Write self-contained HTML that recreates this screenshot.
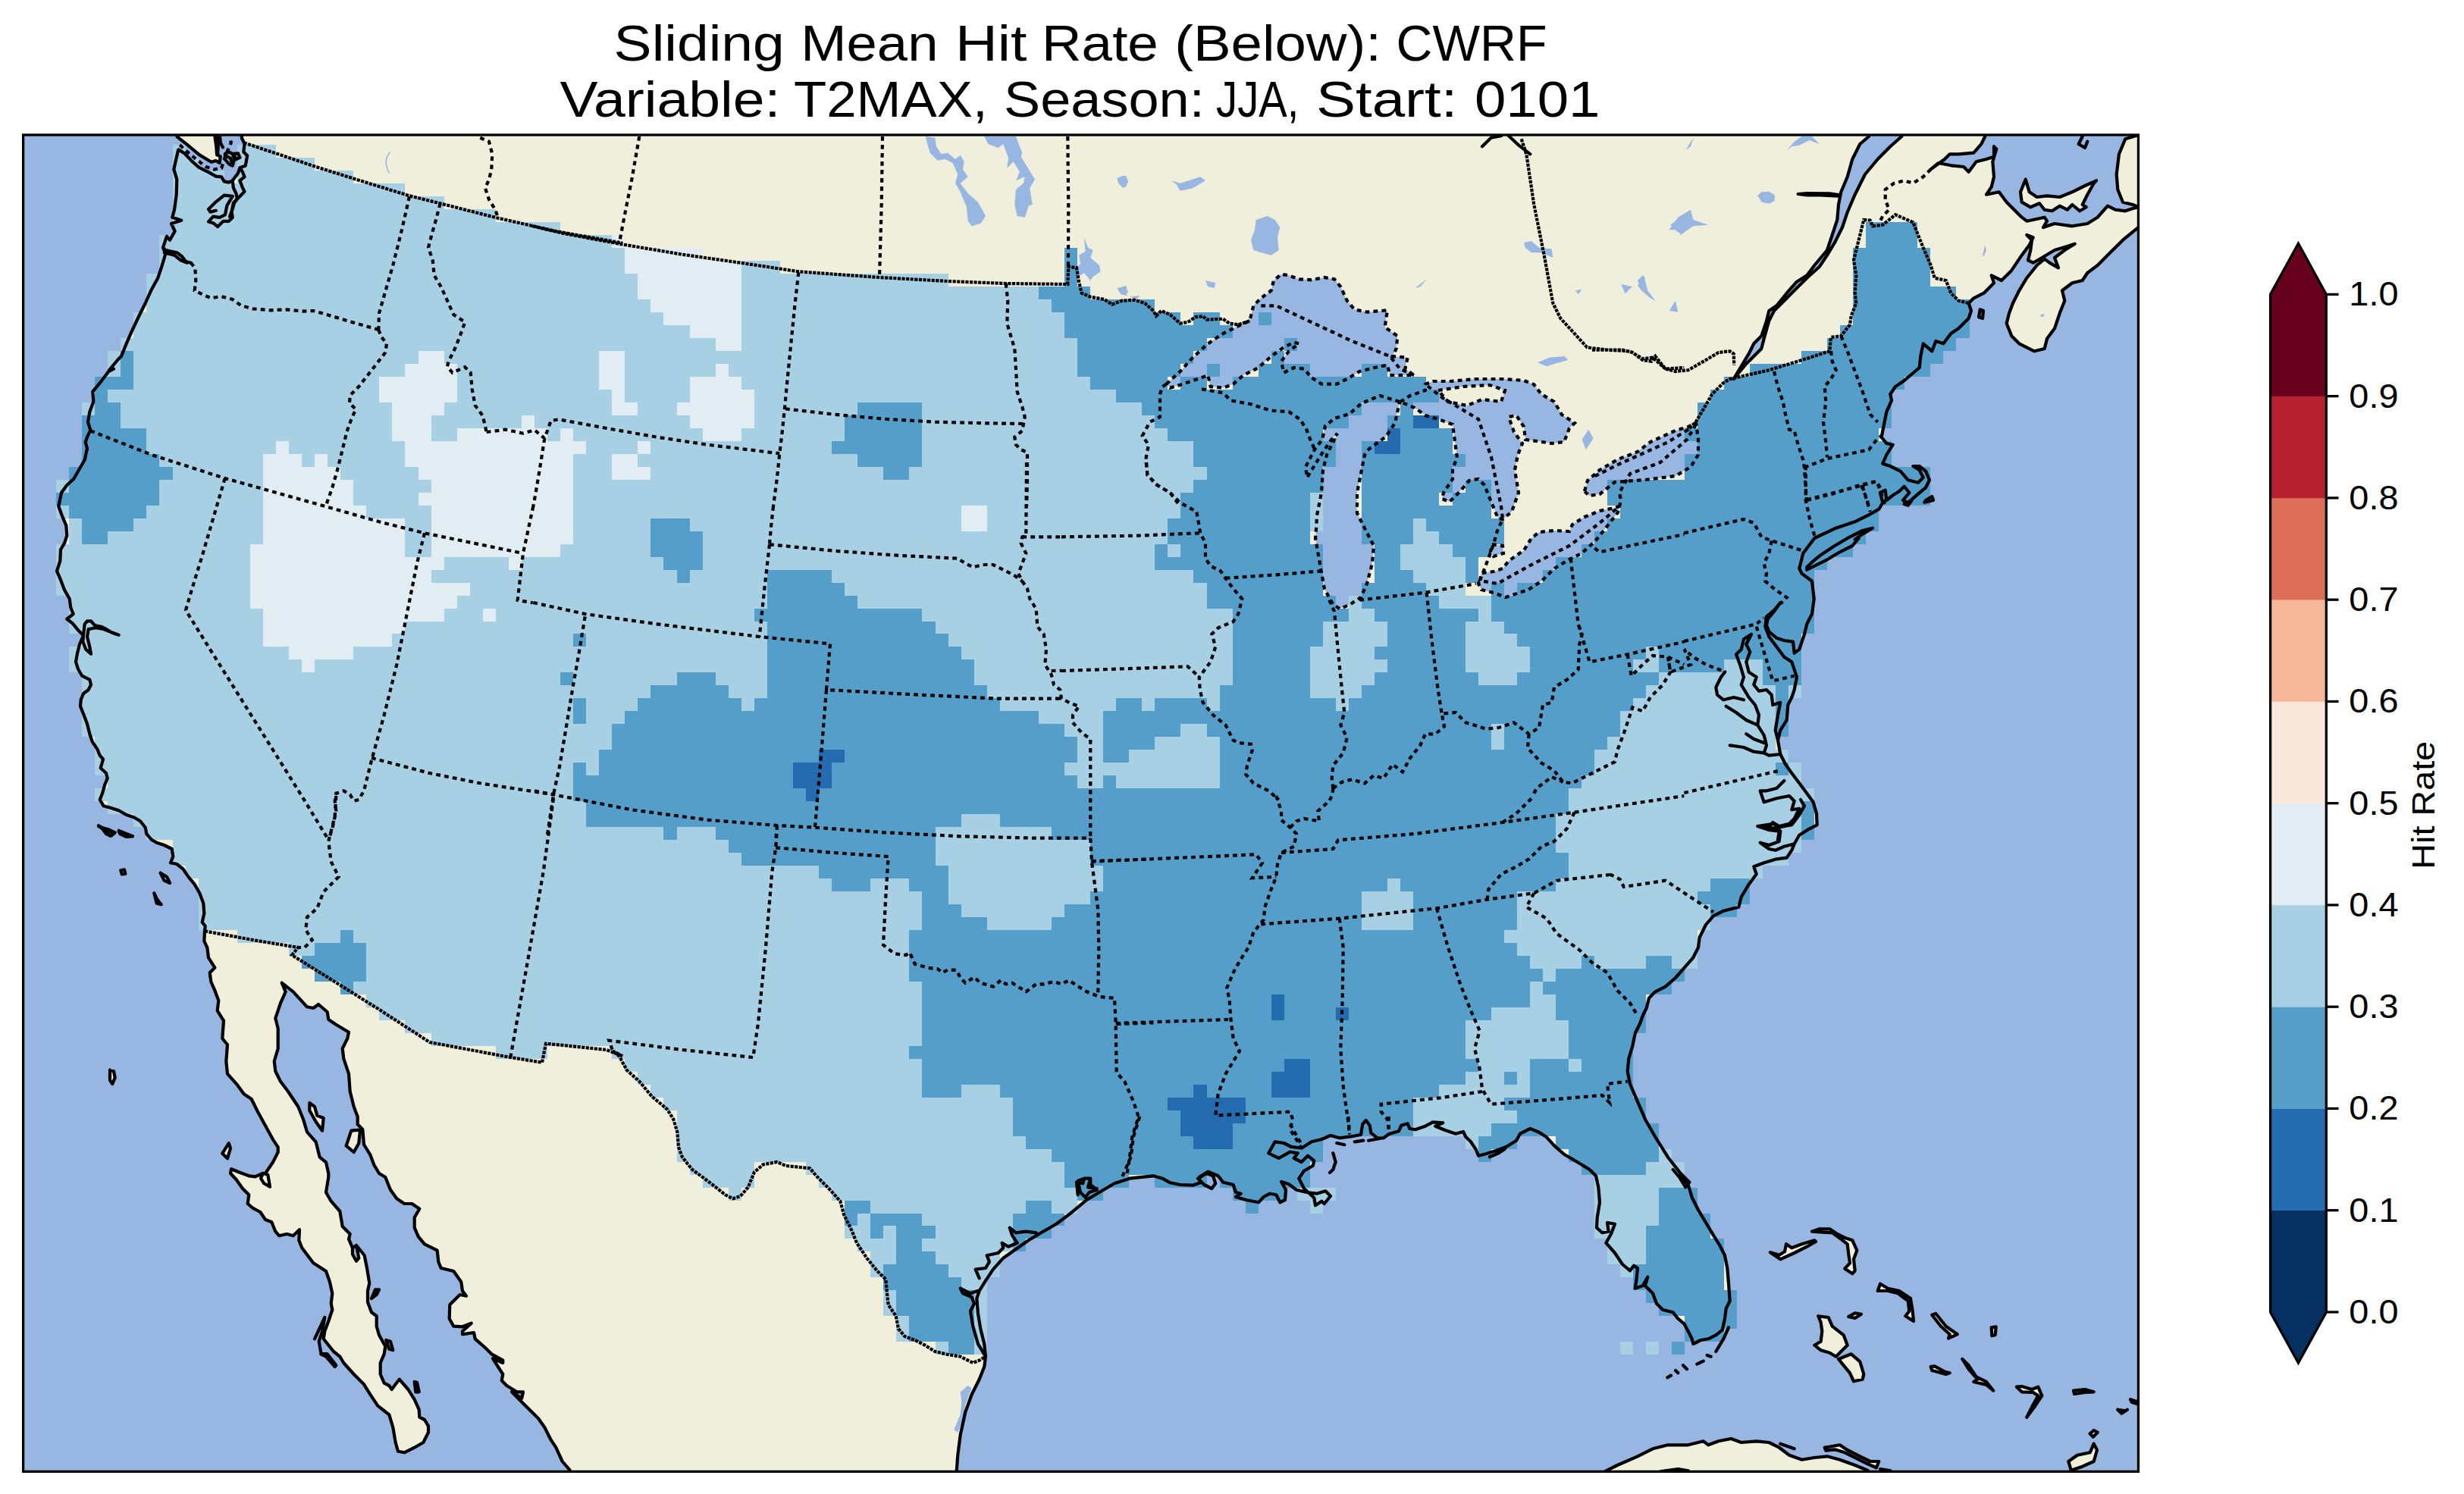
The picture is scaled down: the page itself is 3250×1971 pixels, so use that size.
<!DOCTYPE html><html><head><meta charset="utf-8"><title>map</title><style>html,body{margin:0;padding:0;background:#fff}svg{display:block}text{font-family:"Liberation Sans",sans-serif;fill:#000}</style></head><body>
<svg width="3250" height="1971" viewBox="0 0 3250 1971">
<rect width="3250" height="1971" fill="#fff"/>
<defs><clipPath id="fr"><rect x="30.6" y="178.0" width="2789.85" height="1763.4"/></clipPath></defs>
<g clip-path="url(#fr)"><rect x="30.6" y="178.0" width="2789.85" height="1763.4" fill="#97b6e1"/>
<path fill="#efefdb" d="M318.9 165.1 L318.9 182.2 L318.9 182.2 L322.5 189.5 L321.3 200.5 L326.2 205.3 L323.7 218.7 L316.4 221.2 L314 228.5 L306.7 238.2 L301.8 240.6 L295.7 239.4 L292.1 233.3 L284.8 232.7 L275 227.2 L262.8 221.2 L253.1 212.6 L243.3 202.3 L235.4 197.4 L235 198.3 L232.3 210 L229.3 223.3 L233.3 236.7 L232.7 256.7 L230 276.7 L227.3 286.7 L239.3 290.7 L226 295 L230.7 305 L224 316.7 L220 311.7 L215 326.7 L218.3 335 L213.3 351.7 L208.3 366.7 L200 381.7 L191.7 400 L182.7 418.3 L174 436.7 L166.7 453.3 L160 470 L155 475 L144 488.3 L150 486.7 L143.3 490 L133.3 503.3 L122.3 516.7 L123.3 530 L118.3 543.3 L116 556.7 L119.3 567.3 L115 576.7 L112.7 583.3 L115 591.7 L111.7 606.7 L105 618.3 L97.3 631.7 L88.3 640 L81 650 L77.3 668 L81.7 680 L87.3 693.3 L88.3 706.7 L85 716.7 L80 725 L79.3 740 L75 753.3 L80 765 L85 778.3 L91.7 790 L93.3 801.7 L96.7 810 L88.3 816.7 L95 821.7 L103.3 831.7 L110 838.3 L105 850 L101.7 863.3 L100 873.3 L103.3 883.3 L108.3 891.7 L118.3 896.7 L120 903.3 L116.7 910 L110 915 L106.7 923.3 L106 931.7 L110 941.7 L115 955 L118.3 968.3 L121.7 978.3 L128.3 988.3 L131.7 996.7 L136 1001.7 L132.7 1013.3 L140 1020 L141.7 1026.7 L138.3 1035 L135 1046.7 L131.7 1055 L136.7 1063.3 L146.7 1066 L156.7 1069.3 L166.7 1075 L176.7 1078.3 L185 1083.3 L191.7 1091.7 L193.3 1100 L200 1108 L206.7 1111.7 L216.7 1115 L226.7 1120 L228.3 1130 L225 1138.3 L233.3 1140 L241.7 1146.7 L248.3 1156.7 L256.7 1166.7 L263.3 1178.3 L268.3 1191.7 L269.3 1205 L266.7 1216.7 L270.7 1221.7 L270 1228.3 L270 1228.3 L269.3 1241.7 L273.3 1250 L275 1263.3 L283.3 1276.7 L276.7 1283.3 L278.3 1295 L283.3 1306.7 L288.3 1320 L286.7 1333.3 L295 1346.7 L293.3 1370 L300 1378.3 L298.3 1400 L300 1416.7 L313.3 1431.7 L321.7 1443.3 L331.7 1450 L340 1466.7 L350 1485 L360 1503.3 L366.7 1513.3 L366.7 1520 L360 1533.3 L350 1548 L346.7 1548 L336.7 1552.3 L328.3 1551.3 L316.7 1547 L305 1542.3 L304 1548 L311.7 1556.3 L320 1568 L328.3 1576.3 L326.7 1588 L333.3 1593.7 L343.3 1599 L350 1609 L358.3 1612.3 L363.3 1624.7 L368.3 1630.3 L378.3 1628 L386.7 1630.3 L395 1622.3 L394.3 1636.3 L398.3 1646.3 L413.3 1666.3 L430 1677 L435 1691.3 L438.3 1706.3 L436.7 1719.7 L438.3 1728 L433.3 1743 L428.3 1756.3 L426.7 1766.3 L440 1783 L448.3 1789.7 L453.3 1798 L466.7 1813 L480 1826.3 L488.3 1839.7 L498.3 1854.7 L513.3 1866.3 L518.3 1883 L521.7 1903 L525 1914.7 L533.3 1916.3 L546.7 1909.7 L546.7 1909.7 L558.3 1903 L565 1889.7 L565 1881.3 L560 1873 L553.3 1869.7 L552.7 1859.7 L546.7 1846.3 L538.3 1833 L526.7 1819.7 L521.7 1826.3 L516.7 1833 L513.3 1828 L506.7 1824.7 L501.7 1813 L501.7 1798 L506.7 1786.3 L508.3 1776.3 L500 1761.3 L496.7 1749.7 L496.7 1736.3 L490 1731.3 L485 1718 L485 1703 L487.3 1693 L484 1673 L480.7 1656.3 L470 1643 L465 1646.3 L460 1634.7 L461.7 1628 L451.7 1618 L448.3 1598 L436.7 1584.7 L430 1573 L433.3 1553 L433.3 1548 L430 1533.3 L421.7 1526.7 L416.7 1506.7 L405 1493.3 L400 1476.7 L393.3 1460 L380 1440 L370 1426.7 L363.3 1413.3 L361.7 1400 L366.7 1383.3 L366.7 1356.7 L363.3 1343.3 L370 1323.3 L376.7 1308.3 L371.7 1296.7 L371.7 1296.7 L386.7 1308.3 L405 1328.3 L413.3 1330 L420 1325 L431.7 1335 L433.3 1345 L443.3 1351.7 L460 1361.7 L458.3 1370 L451.7 1383.3 L453.3 1396.7 L460 1416.7 L461.7 1440 L466.7 1460 L471.7 1473.3 L471.7 1483.3 L478.3 1490 L480 1510 L488.3 1523.3 L493.3 1536.7 L500 1548 L508.3 1553 L515 1569.7 L523.3 1581.3 L533.3 1588 L543.3 1588 L553.3 1594.7 L546.7 1606.3 L546.7 1619.7 L551.7 1631.3 L560 1641.3 L576.7 1649.7 L578.3 1664.7 L581.7 1673 L598.3 1677 L608.3 1691.3 L610 1703 L615 1709.7 L606.7 1708 L593.3 1721.3 L592.7 1739.7 L598.3 1749.7 L610 1750.3 L621.7 1745.7 L610 1756.3 L610 1760.3 L625 1758 L626.7 1766.3 L640 1778 L648.3 1786.3 L663.3 1794.7 L663.3 1798 L650 1792.3 L663.3 1813 L661.7 1821.3 L668.3 1828 L681.7 1836.3 L690 1836.3 L688.3 1844.7 L675 1836.3 L693.3 1854.7 L710 1871.3 L718.3 1883 L726.7 1899.7 L733.3 1909.7 L741.7 1928 L751.7 1939.7 L753.3 1946.3 L753.3 1971.4 L1261.7 1971.4 L1261.7 1941.3 L1263.3 1919.7 L1266.7 1893 L1273.3 1863 L1281.7 1839.7 L1291.7 1819.7 L1298.3 1803 L1300 1789.7 L1300 1789.7 L1298.3 1773 L1293.3 1753 L1290 1733 L1288.3 1713 L1291.7 1703 L1300 1689.7 L1310 1674.7 L1323.3 1659.7 L1340 1648 L1356.7 1636.3 L1373.3 1626.3 L1393.3 1614.7 L1413.3 1599.7 L1433.3 1583 L1450 1573 L1470 1561.3 L1490 1554.7 L1521.3 1551.3 L1533.3 1554.7 L1543.3 1560.3 L1556.7 1563 L1573.3 1563.7 L1583.3 1560.3 L1581.7 1553 L1593.3 1545.7 L1606.7 1551.3 L1613.3 1559.7 L1626.7 1563 L1630 1573 L1636.7 1574.7 L1630 1579 L1643.3 1583 L1660 1586.3 L1666.7 1579 L1675 1574.7 L1683.3 1576.3 L1688.3 1586.3 L1695 1583 L1696 1569.7 L1690 1559 L1700 1562.3 L1710 1569.7 L1723.3 1573 L1736.7 1574.7 L1748.3 1571.3 L1755 1578 L1746.7 1588 L1743.3 1584.7 L1735 1590.3 L1733.3 1580.3 L1720 1568 L1713.3 1554.7 L1720 1544.7 L1731.7 1538 L1733.3 1531.3 L1725 1524.7 L1716.7 1533 L1706.7 1528 L1711.7 1521.3 L1701.7 1519.7 L1686.7 1528 L1673.3 1521.3 L1681.7 1506.3 L1693.3 1508 L1703.3 1513 L1716.7 1514.7 L1730 1506.3 L1743.3 1503 L1755 1498 L1766.7 1501.3 L1780 1499.7 L1795 1497 L1797.3 1483 L1801.7 1478 L1806.7 1484.7 L1808.3 1494.7 L1816.7 1501.3 L1825 1501.3 L1831.7 1496.3 L1845 1492.3 L1848.3 1484.7 L1856.7 1482.3 L1859.3 1489 L1866.7 1490.3 L1880 1485.7 L1890 1480.3 L1903.3 1481.3 L1893.3 1485.7 L1906.7 1491.3 L1920 1495.7 L1930 1493 L1933.3 1499.7 L1940 1506.3 L1946.7 1516.3 L1950 1524.7 L1960 1522.3 L1973.3 1518 L1986.7 1513 L2000 1504.7 L2005 1495.7 L2018.3 1489 L2030 1493.7 L2040 1500.3 L2050 1511.3 L2063.3 1523 L2083.3 1534.7 L2096.7 1543 L2105 1551.3 L2108.3 1566.3 L2110 1586.3 L2106.7 1606.3 L2106 1619.7 L2113.3 1626.3 L2121.7 1624.7 L2120 1613 L2130 1614.7 L2125 1628 L2118.3 1639.7 L2130 1653 L2140 1668 L2150 1676.3 L2155 1669.7 L2160 1673 L2158.3 1689.7 L2156.7 1699.7 L2166.7 1696.3 L2173.3 1684.7 L2170 1696.3 L2180 1706.3 L2185 1719.7 L2193.3 1728 L2206.7 1731.3 L2213.3 1739.7 L2221.3 1746.3 L2226.7 1756.3 L2231.7 1766.3 L2233.3 1773 L2243.3 1768 L2253.3 1766.3 L2263.3 1761.3 L2271.7 1754.7 L2275 1739.7 L2276.7 1726.3 L2281.7 1716.3 L2280 1693 L2278.3 1673 L2275 1656.3 L2268.3 1643 L2260 1629.7 L2250 1613 L2240 1596.3 L2231.7 1579.7 L2226.7 1563 L2216.7 1549.7 L2216.7 1548 L2200 1526.7 L2183.3 1500 L2170 1476.7 L2160 1453.3 L2150 1430 L2146.7 1413.3 L2148.3 1396.7 L2153.3 1380 L2156.7 1363.3 L2163.3 1350 L2166.7 1340 L2171.7 1330 L2175 1316.7 L2183.3 1308.3 L2196.7 1301.7 L2210 1290 L2221.7 1276.7 L2233.3 1263.3 L2240 1250 L2241.7 1236.7 L2250 1220 L2260 1208.3 L2273.3 1201.7 L2293.3 1196.7 L2296.7 1183.3 L2306.7 1166.7 L2316.7 1153.3 L2313.3 1143.3 L2326.7 1138.3 L2343.3 1133.3 L2356.7 1131.7 L2363.3 1121.7 L2366.7 1113.3 L2373.3 1101.7 L2386.7 1093.3 L2396.7 1088.3 L2396 1073.3 L2391.7 1058.3 L2383.3 1046.7 L2373.3 1033.3 L2363.3 1020 L2355 1008.3 L2348.3 995 L2345 976.7 L2348.3 963.3 L2356.7 950 L2358.3 930 L2363.3 920 L2366.7 910 L2370 893.3 L2366.7 883.3 L2363.3 873.3 L2353.3 866.7 L2343.3 853.3 L2333.3 840 L2328.3 826.7 L2330 813.3 L2340 805 L2348.3 795 L2340 806.7 L2331.7 816.7 L2330 825 L2333.3 833.3 L2343.3 841.7 L2353.3 845 L2365 846.7 L2366.7 861.7 L2373.3 856.7 L2380 836.7 L2383.3 823.3 L2390 810 L2392.7 790 L2390 766.7 L2376.7 756.7 L2373.3 750 L2378.3 730 L2383.3 723.3 L2393.3 710 L2420 697.3 L2446.7 688.3 L2466.7 678.3 L2478.3 671.7 L2483.3 663.3 L2480 650 L2486.7 646.7 L2488.3 660 L2496.7 653.3 L2505 648.3 L2511.7 641.7 L2518.3 650 L2510 660 L2516.7 663.3 L2530 651.7 L2540 643.3 L2545 633.3 L2540 621.7 L2531.7 615 L2523.3 615 L2531.7 620 L2536.7 630 L2530 636.7 L2516.7 633.3 L2506.7 621.7 L2493.3 615 L2483.3 611.7 L2488.3 600 L2496.7 586.7 L2488.3 585 L2481.7 576.7 L2485 560 L2488.3 543.3 L2495 528.3 L2493.3 520 L2500 510 L2510 503.3 L2520 495 L2531.7 485 L2533.3 470 L2536.7 453.3 L2548.3 463.3 L2553.3 450 L2563.3 453.3 L2573.3 440 L2583.3 433.3 L2596.7 420 L2600 410 L2596.7 400 L2596.7 400 L2603.3 393.3 L2616.7 386.7 L2630 373.3 L2626.7 363.3 L2640 370 L2653.3 356.7 L2666.7 336.7 L2676.7 323.3 L2681.7 313.3 L2673.3 310 L2680 316.7 L2678.3 330 L2675 343.3 L2681.7 346.7 L2693.3 340 L2710 330 L2726.7 325 L2736.7 321.7 L2723.3 330 L2710 340 L2715 353.3 L2703.3 346.7 L2696.7 341.7 L2686.7 350 L2673.3 366.7 L2663.3 383.3 L2655 400 L2650 413.3 L2646.7 426.7 L2653.3 443.3 L2663.3 453.3 L2673.3 458.3 L2683.3 463.3 L2696.7 460 L2700 446.7 L2710 433.3 L2716.7 413.3 L2723.3 396.7 L2720 383.3 L2733.3 373.3 L2746.7 370 L2753.3 360 L2766.7 350 L2783.3 333.3 L2800 316.7 L2820.3 300 L2853.3 300 L2853.3 273.3 L2820.3 273.3 L2813.3 275 L2803.3 278.3 L2790 276.7 L2780 271.7 L2766.7 286.7 L2753.3 295 L2733.3 298.3 L2710 295 L2695 300 L2700 291.7 L2696.7 286.7 L2673.3 291.7 L2666.7 286.7 L2656.7 276.7 L2646.7 266.7 L2636.7 253.3 L2620 256.7 L2626.7 246.7 L2630 233.3 L2628.3 213.3 L2633.3 196.7 L2630 193.3 L2630 206.7 L2620 210 L2606.7 213.3 L2596.7 226.7 L2590 220 L2573.3 218.3 L2556.7 215 L2546.7 223.3 L2565 210 L2571.7 203.3 L2583.3 203.3 L2603.3 201.7 L2613.3 190 L2618.3 180 L2618.3 150 L318.9 148Z M233.6 177.3 L233.6 180.4 L248.2 191.9 L262.8 204.1 L278.7 213.8 L284.8 212 L289.6 215.1 L290.8 206.5 L286 204.1 L285.4 194.4 L283.5 180.4 L283.5 177.3Z M2671.7 236.7 L2676.7 253.3 L2686.7 260 L2700 258.3 L2716.7 260 L2733.3 253.3 L2750 245 L2765 238.3 L2761.7 241.7 L2753.3 256.7 L2746.7 270 L2751.7 273.3 L2743.3 278.3 L2733.3 270 L2726.7 276.7 L2716.7 271.7 L2706.7 278.3 L2696.7 276.7 L2690 268.3 L2678.3 273.3 L2666.7 266.7 L2665 253.3Z M2853.3 273.3 L2820.3 273.3 L2813.3 270 L2800 266.7 L2793.3 250 L2791.7 230 L2795 203.3 L2803.3 183.3 L2820.3 178.3 L2853.3 178.3Z M2383.3 748.3 L2390 741.7 L2400 733.3 L2420 720 L2440 708.3 L2456.7 700 L2470 696.7 L2453.3 706.7 L2446.7 711.7 L2451.7 710 L2443.3 720 L2426.7 728.3 L2410 738.3 L2393.3 746.7 L2383.3 751.7Z M130 1090 L137.3 1092.7 L143.3 1094.3 L151.7 1098.3 L146.7 1102.7 L140 1100 L135 1093.3Z M156.7 1096.7 L166.7 1100 L175 1103.3 L166.7 1104 L158.3 1100Z M211.7 1151.7 L220 1156.7 L224 1165 L216.7 1161.7Z M203.3 1178.3 L207.3 1186.7 L212.7 1193.3 L206.7 1191.7Z M159.3 1148.3 L164 1147.3 L165.3 1152.7 L160.7 1153.3Z M145 1411.7 L150 1413.3 L151.7 1421.7 L148.3 1430 L145 1425Z M293.3 1521.7 L301.7 1508.3 L304 1515 L300 1528.3Z M408.3 1455 L415 1460 L418.3 1471.7 L426.7 1475 L425 1491.7 L416.7 1480 L408.3 1465Z M456.7 1511.7 L463.3 1491.7 L475 1490.7 L473.3 1508.3 L466.7 1520Z M465 1646.3 L470 1643 L473.3 1659.7 L470 1663.7 L465 1654.7Z M490 1713 L495 1701.3 L500 1701.3 L496.7 1708Z M509.3 1768 L515 1769.7 L518.3 1781.3 L513.3 1779.7Z M546.7 1823 L550 1823.7 L552.7 1836.3 L548.3 1836.3Z M2335 1652.3 L2348.3 1661.3 L2366.7 1653 L2383.3 1644.7 L2395 1638 L2393.3 1636.3 L2376.7 1641.3 L2363.3 1646.3 L2356 1641.3 L2354 1651.3 L2346.7 1655.7Z M2390 1624.7 L2400 1621.3 L2413.3 1621.3 L2423.3 1628 L2433.3 1633 L2443.3 1636.3 L2449.3 1649.7 L2445 1661.3 L2446.7 1676.3 L2443.3 1680.3 L2433.3 1673.7 L2440 1666.3 L2438.3 1654.7 L2436.7 1641.3 L2428.3 1634.7 L2416.7 1626.3 L2403.3 1625.7Z M2398.3 1736.3 L2411.7 1738 L2416.7 1749.7 L2431.7 1761.3 L2436.7 1774.7 L2428.3 1783 L2421.7 1789.7 L2413.3 1784.7 L2401.7 1781.3 L2393.3 1774.7 L2401.7 1769.7 L2403.3 1756.3 L2401.7 1744.7Z M2425 1793 L2441.7 1786.3 L2453.3 1796.3 L2458.3 1813 L2456.7 1819.7 L2445 1822.3 L2440 1811.3 L2431.7 1801.3Z M2438.3 1737 L2446.7 1732.3 L2455 1733.7 L2446.7 1739Z M2476.7 1703 L2480 1693.7 L2490 1699.7 L2505 1703 L2520 1713 L2522.7 1729.7 L2524 1743 L2513.3 1736.3 L2518.3 1729.7 L2516.7 1716.3 L2503.3 1706.3 L2490 1703Z M2548.3 1734.7 L2553.3 1733 L2566.7 1749.7 L2581.7 1760.3 L2570 1765.7 L2571.7 1760.3 L2560 1749.7Z M2626.7 1751.3 L2632.7 1750.3 L2631.7 1761.3 L2627.3 1762.3Z M2546.7 1803 L2551.7 1802.3 L2565 1809.7 L2571.7 1811.3 L2566.7 1813 L2548.3 1808Z M2588.3 1793 L2596.7 1801.3 L2606.7 1816.3 L2620 1823 L2629.3 1834.7 L2620 1827 L2603.3 1823 L2608.3 1819.7 L2596.7 1806.3Z M2660 1829.7 L2666.7 1829 L2680 1833 L2688.3 1829.7 L2693.3 1841.3 L2683.3 1856.3 L2673.3 1869.7 L2681.7 1853 L2688.3 1841.3 L2681.7 1837 L2666.7 1836.3Z M2735 1834.7 L2750 1833 L2761.7 1836.3 L2750 1837 L2736 1839Z M2793.3 1859.7 L2803.3 1861.3 L2806 1859.7 L2798.3 1864.7Z M2810 1846.3 L2821.7 1850.3 L2821.7 1853 L2811.7 1849.7Z M2728.3 1928 L2740 1919.7 L2756.7 1916.3 L2761.7 1904.7 L2766 1913 L2761.7 1928 L2746.7 1934.7 L2731.7 1939.7Z M2756.7 1891.3 L2761.7 1887 L2766.7 1889.7 L2760.7 1895.7Z M2110 1949.7 L2116.7 1941.3 L2133.3 1933 L2160 1921.3 L2180 1911.3 L2200 1906.3 L2226.7 1906.3 L2246.7 1901.3 L2253.3 1906.3 L2266.7 1901.3 L2283.3 1898 L2296.7 1903 L2316.7 1901.3 L2333.3 1903 L2346.7 1909.7 L2360 1919.7 L2376.7 1925.7 L2393.3 1923 L2410 1921.3 L2426.7 1925.7 L2446.7 1933 L2463.3 1939.7 L2470 1949.7Z M2406.7 1909.7 L2426.7 1906.3 L2436.7 1913 L2453.3 1921.3 L2466.7 1928 L2478.3 1928 L2475 1936.3 L2463.3 1931.3 L2450 1924.7 L2433.3 1916.3 L2420 1912.3 L2408.3 1913.7Z"/>
<path fill="#97b6e1" d="M1220.7 180 L1233.3 181.7 L1235 193.3 L1241.7 203.3 L1250 201.7 L1260 210 L1266.7 205 L1271.7 213.3 L1270 223.3 L1276.7 233.3 L1266.7 241.7 L1276.7 255 L1290 266.7 L1300 285 L1293.3 295 L1281.7 298.3 L1276.7 291.7 L1275 273.3 L1266.7 253.3 L1260 241.7 L1263.3 230 L1256.7 215 L1246.7 210 L1236.7 211.7 L1226.7 201.7 L1223.3 190Z M1298.3 180 L1340 180 L1348.3 201.7 L1346.7 206.7 L1365 236.7 L1358.3 248.3 L1361.7 270 L1356.7 271.7 L1351.7 286.7 L1341.7 285 L1338.3 270 L1340 250 L1350 241.7 L1351.7 233.3 L1340 238.3 L1345 226.7 L1336.7 213.3 L1328.3 221.7 L1330 208.3 L1323.3 190 L1316.7 195 L1303.3 190Z M1473.3 235 L1481.7 231.7 L1488.3 238.3 L1485 246.7 L1476.7 243.3Z M1430 313.3 L1435 326.7 L1441.7 330 L1438.3 340 L1450 350 L1451.7 358.3 L1441.7 365 L1438.3 370 L1430 360 L1420 366.7 L1416.7 355 L1425 348.3 L1423.3 336.7 L1431.7 331.7Z M1476.7 380 L1485 376.7 L1488.3 386.7 L1480 385Z M1490 391.7 L1503.3 390 L1500 394Z M1538.3 506.7 L1556.7 490 L1573.3 471.7 L1593.3 453.3 L1613.3 440 L1633.3 430 L1648.3 423.3 L1653.3 403.3 L1663.3 393.3 L1676.7 383.3 L1680 370 L1690 361.7 L1700 363.3 L1713.3 368.3 L1730 369.3 L1746.7 366 L1760 368.3 L1768.3 378.3 L1776.7 396.7 L1786.7 408.3 L1803.3 411.7 L1830 409.3 L1828.3 420 L1826.7 431.7 L1843.3 443.3 L1841.7 460 L1836.7 470 L1856.7 471.7 L1853.3 486.7 L1865 495 L1833.3 495 L1830 481.7 L1813.3 485 L1793.3 490 L1776.7 500 L1763.3 506.7 L1743.3 506.7 L1730 498.3 L1720 486.7 L1706.7 485 L1693.3 491.7 L1690 476.7 L1700 463.3 L1713.3 453.3 L1706.7 451.7 L1693.3 458.3 L1676.7 470 L1660 485 L1640 495 L1626.7 506.7 L1613.3 511.7 L1596.7 510 L1593.3 495 L1580 500 L1560 506.7 L1543.3 511.7Z M1656.7 290 L1671.7 285 L1681.7 290 L1688.3 300 L1685 313.3 L1686.7 330 L1676.7 336.7 L1663.3 333.3 L1653.3 330 L1650 316.7 L1655 303.3Z M1473.3 235 L1485 231.7 L1488.3 240 L1481.7 248.3 L1475 241.7Z M1545 238.3 L1556.7 241.7 L1583.3 233.3 L1590 238.3 L1573.3 248.3 L1556.7 251.7 L1551.7 243.3Z M1590 370 L1603.3 373.3 L1601.7 380 L1593.3 378.3Z M1473.3 380 L1483.3 378.3 L1486.7 390 L1478.3 388.3Z M1866.7 380 L1881.7 368.3 L1873.3 378.3Z M2010 320 L2020 318.3 L2030 326.7 L2046.7 328.3 L2048.3 340 L2033.3 333.3 L2020 333.3 L2011.7 326.7Z M2028.3 478.3 L2043.3 471.7 L2063.3 470 L2068.3 475 L2050 480 L2040 483.3Z M2086.7 580 L2095 566.7 L2101.7 578.3 L2091.7 593.3Z M2203.3 296.7 L2221.3 283.3 L2221.3 303.3 L2213.3 306.7Z M2138.3 375 L2150 378.3 L2145 386.7Z M2160 370 L2166.7 363.3 L2173.3 383.3 L2183.3 396.7 L2176.7 393.3 L2165 383.3Z M2201.7 410 L2210 396.7 L2213.3 411.7Z M2078.3 383.3 L2086.7 381.7 L2081.7 388.3Z M2465 160 L2465 180 L2453.3 190 L2443.3 210 L2436.7 233.3 L2428.3 253.3 L2425 270 L2423.3 290 L2416.7 310 L2410 330 L2393.3 350 L2383.3 363.3 L2370 371.7 L2356.7 386.7 L2343.3 403.3 L2333.3 410 L2330 423.3 L2323.3 443.3 L2313.3 453.3 L2306.7 466.7 L2286.7 500 L2286.7 500 L2303.3 480 L2323.3 460 L2326.7 446.7 L2333.3 423.3 L2340 410 L2353.3 396.7 L2366.7 383.3 L2383.3 366.7 L2400 351.7 L2410 336.7 L2420 320 L2430 300 L2436.7 280 L2446.7 256.7 L2460 230 L2476.7 210 L2493.3 193.3 L2508.3 180 L2508.3 160Z M2318.3 258.3 L2323.3 253.3 L2333.3 252.7 L2340.7 257.3 L2340.7 265 L2333.3 268.7 L2324 266.7Z M2201.7 303.3 L2213.3 286.7 L2230 276.7 L2233.3 290 L2253.3 296.7 L2233.3 298.3 L2216.7 310 L2213.3 303.3Z M2138.3 375 L2153.3 378.3 L2143.3 386.7Z M2160 376.7 L2168.3 363.3 L2173.3 383.3 L2183.3 396.7 L2176.7 393.3 L2165 383.3Z M2201.7 410 L2210 396.7 L2213.3 411.7Z M2223.3 198.3 L2233.3 181.7 L2230 193.3Z M2356.7 198.3 L2366.7 186.7 L2376.7 180 L2390 180 L2400 190 L2386.7 185 L2373.3 191.7 L2363.3 193.3Z M2615 336.7 L2618.3 323.3 L2620 330 L2616.7 338.3Z M2690 416.7 L2696.7 413.3 L2695 418.3Z M1846 530 L1820 522 L1796 532 L1780 546 L1760 552 L1748 562 L1744 580 L1734 593 L1722 616 L1724 630 L1740 604 L1756 580 L1764 572 L1750 600 L1745 620 L1743 650 L1737 680 L1736 699 L1735 710 L1742 750 L1747 777 L1758 797 L1767 803 L1780 798 L1795 788 L1803 770 L1810 743 L1812 720 L1800 697 L1790 677 L1790 650 L1796 620 L1800 600 L1806 592 L1820 582 L1828 576 L1840 558 L1844 540Z M1847 530 L1860 522 L1880 515 L1880 507 L1890 503 L1913 503 L1947 500 L1983 500 L2010 502 L2023 507 L2033 520 L2050 530 L2060 547 L2077 558 L2070 565 L2063 583 L2047 585 L2027 582 L2012 580 L2010 563 L2000 548 L1990 550 L1997 570 L2008 585 L2002 600 L1998 620 L2003 650 L1994 675 L1982 685 L1976 684 L1966 660 L1958 640 L1950 632 L1938 634 L1926 648 L1912 662 L1902 658 L1904 650 L1916 632 L1916 618 L1922 604 L1920 590 L1916 560 L1900 554 L1880 548 L1866 538Z M1968 718 L1982 720 L1983 730 L1970 734 L1966 728Z M1952 766 L1954 756 L1970 754 L1982 750 L1990 740 L2010 726 L2020 710 L2030 702 L2050 700 L2070 701 L2074 692 L2090 682 L2110 674 L2130 670 L2136 668 L2134 676 L2120 694 L2104 714 L2086 730 L2070 738 L2050 750 L2034 766 L2016 778 L1998 784 L1986 788 L1970 782 L1954 778 L1950 770Z M2090 648 L2094 634 L2110 620 L2134 606 L2160 596 L2177 583 L2210 568 L2227 563 L2237 558 L2240 580 L2240 600 L2230 616 L2210 628 L2170 633 L2130 636 L2120 644 L2110 652 L2096 654Z M1266.7 1836.3 L1276.7 1828 L1281.7 1831.3 L1273.3 1853 L1270 1873 L1263.3 1889.7 L1258.3 1886.3 L1266.7 1866.3 L1268.3 1849.7Z"/>
<path fill="#efefdb" d="M1897 515 L1930 510 L1965 508 L1985 515 L1980 530 L1955 527 L1935 535 L1910 530Z"/>
<path fill="none" stroke="#97b6e1" stroke-width="1.5" stroke-linecap="round" stroke-linejoin="round" d="M514 200.7 L510 208.3 L509 215 L511 223.3 L513.3 228.3"/>
<path fill="#256baf" shape-rendering="crispEdges" d="M1864 548H1898V565H1864ZM1830 565H1847V582H1830ZM1813 582H1847V599H1813ZM1080 989H1114V1006H1080ZM1046 1006H1097V1023H1046ZM1046 1023H1097V1040H1046ZM1063 1040H1080V1057H1063ZM1677 1312H1694V1329H1677ZM1677 1329H1694V1346H1677ZM1762 1329H1779V1346H1762ZM1694 1397H1728V1414H1694ZM1677 1414H1728V1431H1677ZM1574 1431H1592V1448H1574ZM1677 1431H1728V1448H1677ZM1540 1448H1643V1465H1540ZM1557 1465H1643V1482H1557ZM1557 1482H1626V1499H1557ZM1574 1499H1626V1516H1574Z"/>
<path fill="#559ec9" shape-rendering="crispEdges" d="M2461 293H2529V310H2461ZM2461 310H2529V327H2461ZM1404 327H1421V344H1404ZM2444 327H2546V344H2444ZM1404 344H1421V361H1404ZM2444 344H2546V361H2444ZM1404 361H1421V378H1404ZM2444 361H2546V378H2444ZM1370 378H1438V395H1370ZM2444 378H2580V395H2444ZM1387 395H1523V412H1387ZM2444 395H2598V412H2444ZM1404 412H1557V429H1404ZM1574 412H1609V429H1574ZM1660 412H1677V429H1660ZM2444 412H2598V429H2444ZM1404 429H1626V446H1404ZM2427 429H2598V446H2427ZM1421 446H1592V463H1421ZM1694 446H1711V463H1694ZM2410 446H2580V463H2410ZM159 463H176V480H159ZM1421 463H1574V480H1421ZM1677 463H1694V480H1677ZM2376 463H2563V480H2376ZM159 480H176V497H159ZM1421 480H1557V497H1421ZM1592 480H1609V497H1592ZM1660 480H1728V497H1660ZM1796 480H1830V497H1796ZM2308 480H2546V497H2308ZM125 497H176V514H125ZM1438 497H1540V514H1438ZM1557 497H1592V514H1557ZM1626 497H1881V514H1626ZM2274 497H2512V514H2274ZM125 514H142V531H125ZM1472 514H1898V531H1472ZM2256 514H2495V531H2256ZM125 531H159V548H125ZM1131 531H1216V548H1131ZM1506 531H1796V548H1506ZM1847 531H1864V548H1847ZM2239 531H2495V548H2239ZM108 548H159V565H108ZM1114 548H1216V565H1114ZM1523 548H1779V565H1523ZM1830 548H1864V565H1830ZM2239 548H2495V565H2239ZM108 565H193V582H108ZM1114 565H1216V582H1114ZM1540 565H1745V582H1540ZM1847 565H1916V582H1847ZM2222 565H2478V582H2222ZM108 582H193V599H108ZM1097 582H1216V599H1097ZM1574 582H1762V599H1574ZM1796 582H1813V599H1796ZM1847 582H1916V599H1847ZM2239 582H2495V599H2239ZM108 599H210V616H108ZM1131 599H1216V616H1131ZM1574 599H1762V616H1574ZM1796 599H1933V616H1796ZM2222 599H2495V616H2222ZM91 616H228V633H91ZM1165 616H1199V633H1165ZM1592 616H1745V633H1592ZM1796 616H1916V633H1796ZM2222 616H2546V633H2222ZM91 633H210V650H91ZM1574 633H1745V650H1574ZM1796 633H1916V650H1796ZM1933 633H1967V650H1933ZM2120 633H2546V650H2120ZM74 650H210V667H74ZM1557 650H1728V667H1557ZM1796 650H1898V667H1796ZM1916 650H1967V667H1916ZM2120 650H2546V667H2120ZM91 667H193V684H91ZM1557 667H1728V684H1557ZM1796 667H1967V684H1796ZM2137 667H2478V684H2137ZM108 684H176V701H108ZM858 684H910V701H858ZM1540 684H1728V701H1540ZM1796 684H1864V701H1796ZM1881 684H1984V701H1881ZM2120 684H2478V701H2120ZM108 701H142V718H108ZM858 701H927V718H858ZM1540 701H1728V718H1540ZM1796 701H1864V718H1796ZM1898 701H1984V718H1898ZM2103 701H2461V718H2103ZM858 718H927V735H858ZM1523 718H1540V735H1523ZM1557 718H1745V735H1557ZM1813 718H1847V735H1813ZM1916 718H1967V735H1916ZM2086 718H2444V735H2086ZM875 735H927V752H875ZM1523 735H1745V752H1523ZM1813 735H1847V752H1813ZM1933 735H1950V752H1933ZM2052 735H2410V752H2052ZM893 752H910V769H893ZM1012 752H1097V769H1012ZM1574 752H1745V769H1574ZM1813 752H1864V769H1813ZM1933 752H1950V769H1933ZM2035 752H2393V769H2035ZM1012 769H1114V786H1012ZM1592 769H1745V786H1592ZM1796 769H1881V786H1796ZM1967 769H1984V786H1967ZM2001 769H2393V786H2001ZM1012 786H1131V803H1012ZM1592 786H1762V803H1592ZM1796 786H1898V803H1796ZM1967 786H2393V803H1967ZM995 803H1216V820H995ZM1626 803H1779V820H1626ZM1813 803H1950V820H1813ZM1967 803H2393V820H1967ZM1012 820H1234V836H1012ZM1626 820H1745V836H1626ZM1830 820H1933V836H1830ZM1984 820H2393V836H1984ZM756 836H773V853H756ZM1012 836H1251V853H1012ZM1626 836H1745V853H1626ZM1830 836H1933V853H1830ZM2001 836H2376V853H2001ZM1012 853H1268V870H1012ZM1626 853H1728V870H1626ZM1813 853H1933V870H1813ZM2018 853H2171V870H2018ZM2188 853H2376V870H2188ZM1012 870H1285V887H1012ZM1626 870H1728V887H1626ZM1830 870H1933V887H1830ZM2018 870H2154V887H2018ZM2188 870H2274V887H2188ZM2325 870H2376V887H2325ZM739 887H756V904H739ZM893 887H944V904H893ZM1012 887H1285V904H1012ZM1626 887H1728V904H1626ZM1813 887H1950V904H1813ZM2001 887H2188V904H2001ZM2325 887H2376V904H2325ZM858 904H961V921H858ZM1012 904H1302V921H1012ZM1609 904H1728V921H1609ZM1796 904H2171V921H1796ZM2342 904H2359V921H2342ZM756 921H773V938H756ZM841 921H978V938H841ZM995 921H1319V938H995ZM1472 921H1506V938H1472ZM1523 921H1592V938H1523ZM1609 921H1762V938H1609ZM1779 921H2154V938H1779ZM2342 921H2359V938H2342ZM756 938H773V955H756ZM824 938H1370V955H824ZM1455 938H2137V955H1455ZM2342 938H2359V955H2342ZM807 955H1404V972H807ZM1455 955H1557V972H1455ZM1592 955H1967V972H1592ZM1984 955H2137V972H1984ZM2342 955H2359V972H2342ZM807 972H1421V989H807ZM1455 972H1523V989H1455ZM1609 972H1967V989H1609ZM1984 972H2120V989H1984ZM790 989H1080V1006H790ZM1114 989H1421V1006H1114ZM1455 989H1489V1006H1455ZM1609 989H2103V1006H1609ZM756 1006H773V1023H756ZM790 1006H1046V1023H790ZM1097 1006H1404V1023H1097ZM1609 1006H2103V1023H1609ZM2342 1006H2359V1023H2342ZM756 1023H1046V1040H756ZM1097 1023H1421V1040H1097ZM1455 1023H1472V1040H1455ZM1609 1023H2086V1040H1609ZM756 1040H1063V1057H756ZM1080 1040H2069V1057H1080ZM773 1057H2069V1074H773ZM2376 1057H2393V1074H2376ZM773 1074H1268V1091H773ZM1319 1074H2052V1091H1319ZM2376 1074H2393V1091H2376ZM875 1091H893V1108H875ZM944 1091H1234V1108H944ZM1387 1091H2052V1108H1387ZM2376 1091H2393V1108H2376ZM961 1108H1234V1125H961ZM1438 1108H2052V1125H1438ZM978 1125H1234V1142H978ZM1438 1125H2069V1142H1438ZM1080 1142H1251V1159H1080ZM1455 1142H2069V1159H1455ZM1097 1159H1148V1176H1097ZM1199 1159H1251V1176H1199ZM1455 1159H1830V1176H1455ZM1847 1159H2052V1176H1847ZM2256 1159H2308V1176H2256ZM1216 1176H1251V1193H1216ZM1438 1176H1796V1193H1438ZM1864 1176H2001V1193H1864ZM2239 1176H2308V1193H2239ZM1216 1193H1268V1210H1216ZM1404 1193H1796V1210H1404ZM1864 1193H2001V1210H1864ZM2256 1193H2291V1210H2256ZM1216 1210H1302V1227H1216ZM1387 1210H1796V1227H1387ZM1864 1210H2001V1227H1864ZM449 1227H466V1244H449ZM1199 1227H1984V1244H1199ZM415 1244H483V1261H415ZM1199 1244H2001V1261H1199ZM398 1261H483V1278H398ZM1199 1261H2018V1278H1199ZM2086 1261H2103V1278H2086ZM2171 1261H2205V1278H2171ZM415 1278H483V1295H415ZM1199 1278H2035V1295H1199ZM2052 1278H2222V1295H2052ZM449 1295H466V1312H449ZM1216 1295H2018V1312H1216ZM2035 1295H2205V1312H2035ZM1216 1312H1677V1329H1216ZM1694 1312H2018V1329H1694ZM2052 1312H2171V1329H2052ZM1216 1329H1677V1346H1216ZM1694 1329H1762V1346H1694ZM1779 1329H1967V1346H1779ZM2052 1329H2171V1346H2052ZM1216 1346H1933V1363H1216ZM2069 1346H2171V1363H2069ZM1216 1363H1933V1380H1216ZM2069 1363H2154V1380H2069ZM1199 1380H1933V1397H1199ZM2069 1380H2154V1397H2069ZM1216 1397H1694V1414H1216ZM1728 1397H1950V1414H1728ZM2018 1397H2069V1414H2018ZM2086 1397H2154V1414H2086ZM1216 1414H1677V1431H1216ZM1728 1414H1933V1431H1728ZM1984 1414H2001V1431H1984ZM2018 1414H2154V1431H2018ZM1216 1431H1268V1448H1216ZM1319 1431H1574V1448H1319ZM1592 1431H1677V1448H1592ZM1728 1431H1898V1448H1728ZM2018 1431H2154V1448H2018ZM1336 1448H1540V1465H1336ZM1643 1448H1864V1465H1643ZM1984 1448H2171V1465H1984ZM1336 1465H1557V1482H1336ZM1643 1465H1864V1482H1643ZM2001 1465H2171V1482H2001ZM1336 1482H1557V1499H1336ZM1626 1482H1864V1499H1626ZM1967 1482H2188V1499H1967ZM1353 1499H1574V1516H1353ZM1626 1499H1745V1516H1626ZM1950 1499H2001V1516H1950ZM2052 1499H2188V1516H2052ZM1387 1516H1745V1533H1387ZM1950 1516H1967V1533H1950ZM2069 1516H2188V1533H2069ZM1404 1533H1728V1550H1404ZM2086 1533H2171V1550H2086ZM1404 1550H1489V1567H1404ZM1523 1550H1592V1567H1523ZM1609 1550H1728V1567H1609ZM1421 1567H1455V1584H1421ZM1626 1567H1694V1584H1626ZM2188 1567H2239V1584H2188ZM1114 1584H1148V1601H1114ZM1353 1584H1387V1601H1353ZM1643 1584H1660V1601H1643ZM2188 1584H2239V1601H2188ZM1114 1601H1131V1617H1114ZM1148 1601H1216V1617H1148ZM1336 1601H1404V1617H1336ZM2188 1601H2256V1617H2188ZM1148 1617H1165V1634H1148ZM1182 1617H1234V1634H1182ZM1336 1617H1387V1634H1336ZM2171 1617H2256V1634H2171ZM1182 1634H1216V1651H1182ZM1336 1634H1353V1651H1336ZM2171 1634H2274V1651H2171ZM1182 1651H1234V1668H1182ZM2171 1651H2274V1668H2171ZM1165 1668H1251V1685H1165ZM2154 1668H2274V1685H2154ZM1165 1685H1268V1702H1165ZM2154 1685H2274V1702H2154ZM1182 1702H1285V1719H1182ZM2171 1702H2291V1719H2171ZM1182 1719H1285V1736H1182ZM2188 1719H2291V1736H2188ZM1199 1736H1285V1753H1199ZM2222 1736H2291V1753H2222ZM1199 1753H1285V1770H1199ZM2222 1753H2274V1770H2222ZM1251 1770H1285V1787H1251ZM2205 1770H2222V1787H2205Z"/>
<path fill="#a7d0e4" shape-rendering="crispEdges" d="M228 191H245V208H228ZM313 191H364V208H313ZM228 208H262V225H228ZM313 208H415V225H313ZM228 225H296V242H228ZM313 225H466V242H313ZM228 242H534V259H228ZM228 259H586V276H228ZM228 276H654V293H228ZM228 293H739V310H228ZM210 310H807V327H210ZM210 327H824V344H210ZM210 344H824V361H210ZM978 344H1029V361H978ZM193 361H841V378H193ZM978 361H1251V378H978ZM193 378H841V395H193ZM978 378H1370V395H978ZM193 395H858V412H193ZM978 395H1387V412H978ZM176 412H875V429H176ZM978 412H1404V429H978ZM176 429H910V446H176ZM978 429H1404V446H978ZM159 446H944V463H159ZM978 446H1421V463H978ZM142 463H159V480H142ZM176 463H552V480H176ZM586 463H790V480H586ZM824 463H1421V480H824ZM142 480H159V497H142ZM176 480H534V497H176ZM603 480H790V497H603ZM824 480H944V497H824ZM961 480H1421V497H961ZM176 497H500V514H176ZM603 497H790V514H603ZM824 497H910V514H824ZM978 497H1438V514H978ZM142 514H500V531H142ZM603 514H807V531H603ZM824 514H910V531H824ZM995 514H1472V531H995ZM108 531H125V548H108ZM159 531H517V548H159ZM586 531H807V548H586ZM841 531H893V548H841ZM995 531H1131V548H995ZM1216 531H1506V548H1216ZM159 548H517V565H159ZM569 548H688V565H569ZM705 548H910V565H705ZM995 548H1114V565H995ZM1216 548H1523V565H1216ZM193 565H517V582H193ZM569 565H603V582H569ZM722 565H739V582H722ZM756 565H927V582H756ZM978 565H1114V582H978ZM1216 565H1540V582H1216ZM193 582H364V599H193ZM381 582H534V599H381ZM773 582H841V599H773ZM858 582H1097V599H858ZM1216 582H1574V599H1216ZM210 599H347V616H210ZM398 599H415V616H398ZM432 599H534V616H432ZM756 599H807V616H756ZM841 599H1131V616H841ZM1216 599H1574V616H1216ZM228 616H347V633H228ZM449 616H552V633H449ZM756 616H807V633H756ZM858 616H1165V633H858ZM1199 616H1592V633H1199ZM74 633H91V650H74ZM210 633H347V650H210ZM466 633H569V650H466ZM756 633H1574V650H756ZM210 650H347V667H210ZM466 650H552V667H466ZM756 650H1557V667H756ZM1728 650H1745V667H1728ZM74 667H91V684H74ZM193 667H347V684H193ZM483 667H569V684H483ZM756 667H1268V684H756ZM1302 667H1557V684H1302ZM1728 667H1745V684H1728ZM91 684H108V701H91ZM176 684H347V701H176ZM534 684H569V701H534ZM756 684H858V701H756ZM910 684H1268V701H910ZM1302 684H1540V701H1302ZM1728 684H1745V701H1728ZM1864 684H1881V701H1864ZM91 701H108V718H91ZM142 701H347V718H142ZM534 701H569V718H534ZM756 701H858V718H756ZM927 701H1540V718H927ZM1864 701H1898V718H1864ZM74 718H330V735H74ZM534 718H569V735H534ZM739 718H858V735H739ZM927 718H1523V735H927ZM1540 718H1557V735H1540ZM1847 718H1916V735H1847ZM74 735H330V752H74ZM586 735H671V752H586ZM688 735H875V752H688ZM927 735H1523V752H927ZM1847 735H1933V752H1847ZM74 752H330V769H74ZM569 752H893V769H569ZM910 752H1012V769H910ZM1097 752H1574V769H1097ZM1864 752H1933V769H1864ZM74 769H330V786H74ZM620 769H1012V786H620ZM1114 769H1592V786H1114ZM1881 769H1933V786H1881ZM91 786H330V803H91ZM603 786H1012V803H603ZM1131 786H1592V803H1131ZM1779 786H1796V803H1779ZM1898 786H1967V803H1898ZM91 803H347V820H91ZM586 803H637V820H586ZM654 803H995V820H654ZM1216 803H1626V820H1216ZM1779 803H1813V820H1779ZM1950 803H1967V820H1950ZM91 820H347V836H91ZM534 820H1012V836H534ZM1234 820H1626V836H1234ZM1745 820H1830V836H1745ZM1933 820H1984V836H1933ZM108 836H347V853H108ZM517 836H756V853H517ZM773 836H1012V853H773ZM1251 836H1626V853H1251ZM1745 836H1830V853H1745ZM1933 836H2001V853H1933ZM91 853H381V870H91ZM466 853H1012V870H466ZM1268 853H1626V870H1268ZM1728 853H1813V870H1728ZM1933 853H2018V870H1933ZM2171 853H2188V870H2171ZM91 870H398V887H91ZM415 870H1012V887H415ZM1285 870H1626V887H1285ZM1728 870H1830V887H1728ZM1933 870H2018V887H1933ZM2154 870H2188V887H2154ZM2274 870H2325V887H2274ZM108 887H739V904H108ZM756 887H893V904H756ZM944 887H1012V904H944ZM1285 887H1626V904H1285ZM1728 887H1813V904H1728ZM1950 887H2001V904H1950ZM2188 887H2325V904H2188ZM108 904H858V921H108ZM961 904H1012V921H961ZM1302 904H1609V921H1302ZM1728 904H1796V921H1728ZM2171 904H2342V921H2171ZM2359 904H2376V921H2359ZM108 921H756V938H108ZM773 921H841V938H773ZM978 921H995V938H978ZM1319 921H1472V938H1319ZM1506 921H1523V938H1506ZM1592 921H1609V938H1592ZM1762 921H1779V938H1762ZM2154 921H2342V938H2154ZM108 938H756V955H108ZM773 938H824V955H773ZM1370 938H1455V955H1370ZM2137 938H2342V955H2137ZM108 955H807V972H108ZM1404 955H1455V972H1404ZM1557 955H1592V972H1557ZM1967 955H1984V972H1967ZM2137 955H2342V972H2137ZM125 972H807V989H125ZM1421 972H1455V989H1421ZM1523 972H1609V989H1523ZM1967 972H1984V989H1967ZM2120 972H2342V989H2120ZM125 989H790V1006H125ZM1421 989H1455V1006H1421ZM1489 989H1609V1006H1489ZM2103 989H2359V1006H2103ZM125 1006H756V1023H125ZM773 1006H790V1023H773ZM1404 1006H1609V1023H1404ZM2103 1006H2342V1023H2103ZM2359 1006H2376V1023H2359ZM142 1023H756V1040H142ZM1421 1023H1455V1040H1421ZM1472 1023H1609V1040H1472ZM2086 1023H2376V1040H2086ZM125 1040H756V1057H125ZM2069 1040H2393V1057H2069ZM142 1057H773V1074H142ZM2069 1057H2376V1074H2069ZM176 1074H773V1091H176ZM1268 1074H1319V1091H1268ZM2052 1074H2376V1091H2052ZM193 1091H875V1108H193ZM893 1091H944V1108H893ZM1234 1091H1387V1108H1234ZM2052 1091H2376V1108H2052ZM228 1108H961V1125H228ZM1234 1108H1438V1125H1234ZM2052 1108H2376V1125H2052ZM228 1125H978V1142H228ZM1234 1125H1438V1142H1234ZM2069 1125H2359V1142H2069ZM245 1142H1080V1159H245ZM1251 1142H1455V1159H1251ZM2069 1142H2325V1159H2069ZM262 1159H1097V1176H262ZM1148 1159H1199V1176H1148ZM1251 1159H1455V1176H1251ZM1830 1159H1847V1176H1830ZM2052 1159H2256V1176H2052ZM262 1176H1216V1193H262ZM1251 1176H1438V1193H1251ZM1796 1176H1864V1193H1796ZM2001 1176H2239V1193H2001ZM262 1193H1216V1210H262ZM1268 1193H1404V1210H1268ZM1796 1193H1864V1210H1796ZM2001 1193H2256V1210H2001ZM262 1210H1216V1227H262ZM1302 1210H1387V1227H1302ZM1796 1210H1864V1227H1796ZM2001 1210H2256V1227H2001ZM313 1227H449V1244H313ZM466 1227H1199V1244H466ZM1984 1227H2239V1244H1984ZM381 1244H415V1261H381ZM483 1244H1199V1261H483ZM2001 1244H2239V1261H2001ZM483 1261H1199V1278H483ZM2018 1261H2086V1278H2018ZM2103 1261H2171V1278H2103ZM2205 1261H2239V1278H2205ZM483 1278H1199V1295H483ZM2035 1278H2052V1295H2035ZM466 1295H1216V1312H466ZM2018 1295H2035V1312H2018ZM483 1312H1216V1329H483ZM2018 1312H2052V1329H2018ZM500 1329H1216V1346H500ZM1967 1329H2052V1346H1967ZM534 1346H1216V1363H534ZM1933 1346H2069V1363H1933ZM569 1363H1216V1380H569ZM1933 1363H2069V1380H1933ZM654 1380H722V1397H654ZM807 1380H1199V1397H807ZM1933 1380H2069V1397H1933ZM824 1397H1216V1414H824ZM1950 1397H2018V1414H1950ZM2069 1397H2086V1414H2069ZM841 1414H1216V1431H841ZM1933 1414H1984V1431H1933ZM2001 1414H2018V1431H2001ZM858 1431H1216V1448H858ZM1268 1431H1319V1448H1268ZM1898 1431H2018V1448H1898ZM875 1448H1336V1465H875ZM1864 1448H1984V1465H1864ZM893 1465H1336V1482H893ZM1864 1465H2001V1482H1864ZM893 1482H1336V1499H893ZM1864 1482H1967V1499H1864ZM893 1499H1353V1516H893ZM1933 1499H1950V1516H1933ZM893 1516H1387V1533H893ZM2188 1516H2205V1533H2188ZM910 1533H995V1550H910ZM1063 1533H1404V1550H1063ZM2171 1533H2222V1550H2171ZM927 1550H995V1567H927ZM1080 1550H1404V1567H1080ZM2103 1550H2222V1567H2103ZM961 1567H978V1584H961ZM1097 1567H1421V1584H1097ZM1711 1567H1762V1584H1711ZM2103 1567H2188V1584H2103ZM1148 1584H1353V1601H1148ZM1387 1584H1421V1601H1387ZM1728 1584H1745V1601H1728ZM2103 1584H2188V1601H2103ZM1131 1601H1148V1617H1131ZM1216 1601H1336V1617H1216ZM2103 1601H2188V1617H2103ZM1114 1617H1148V1634H1114ZM1165 1617H1182V1634H1165ZM1234 1617H1336V1634H1234ZM2103 1617H2171V1634H2103ZM1131 1634H1182V1651H1131ZM1216 1634H1336V1651H1216ZM2120 1634H2171V1651H2120ZM1148 1651H1182V1668H1148ZM1234 1651H1319V1668H1234ZM2120 1651H2171V1668H2120ZM1148 1668H1165V1685H1148ZM1251 1668H1319V1685H1251ZM2137 1668H2154V1685H2137ZM1268 1685H1302V1702H1268ZM1165 1702H1182V1719H1165ZM1285 1702H1302V1719H1285ZM1165 1719H1182V1736H1165ZM1285 1719H1302V1736H1285ZM1182 1736H1199V1753H1182ZM1285 1736H1302V1753H1285ZM1182 1753H1199V1770H1182ZM1285 1753H1302V1770H1285ZM1234 1770H1251V1787H1234ZM1285 1770H1302V1787H1285ZM2137 1770H2154V1787H2137ZM2171 1770H2188V1787H2171Z"/>
<path fill="#e2edf3" shape-rendering="crispEdges" d="M807 310H824V327H807ZM824 327H927V344H824ZM824 344H978V361H824ZM841 361H978V378H841ZM841 378H978V395H841ZM858 395H978V412H858ZM875 412H978V429H875ZM910 429H978V446H910ZM944 446H978V463H944ZM552 463H586V480H552ZM790 463H824V480H790ZM534 480H603V497H534ZM790 480H824V497H790ZM944 480H961V497H944ZM500 497H603V514H500ZM790 497H824V514H790ZM910 497H978V514H910ZM500 514H603V531H500ZM807 514H824V531H807ZM910 514H995V531H910ZM517 531H586V548H517ZM807 531H841V548H807ZM893 531H995V548H893ZM517 548H569V565H517ZM688 548H705V565H688ZM910 548H995V565H910ZM517 565H569V582H517ZM603 565H722V582H603ZM739 565H756V582H739ZM927 565H978V582H927ZM364 582H381V599H364ZM534 582H773V599H534ZM841 582H858V599H841ZM347 599H398V616H347ZM415 599H432V616H415ZM534 599H756V616H534ZM807 599H841V616H807ZM347 616H449V633H347ZM552 616H756V633H552ZM807 616H858V633H807ZM347 633H466V650H347ZM569 633H756V650H569ZM347 650H466V667H347ZM552 650H756V667H552ZM347 667H483V684H347ZM569 667H756V684H569ZM1268 667H1302V684H1268ZM347 684H534V701H347ZM569 684H756V701H569ZM1268 684H1302V701H1268ZM347 701H534V718H347ZM569 701H756V718H569ZM330 718H534V735H330ZM569 718H739V735H569ZM330 735H586V752H330ZM671 735H688V752H671ZM330 752H569V769H330ZM330 769H620V786H330ZM330 786H603V803H330ZM347 803H586V820H347ZM637 803H654V820H637ZM347 820H534V836H347ZM347 836H517V853H347ZM381 853H466V870H381ZM398 870H415V887H398Z"/>
<path fill="none" stroke="#000" stroke-width="4.2" stroke-dasharray="5.8 5.2" d="M540 259.3 L530 303.3 L518.3 350 L506.7 390 L500 413.3 L499.3 435 M251.7 346.7 L257.3 353.3 L258.3 370 L256.7 383.3 L266.7 388.3 L278.3 393.3 L291.7 391 L306.7 395 L318.3 403.3 L333.3 407.3 L356.7 409.3 L376.7 408.3 L400 410.7 L413.3 410 L433.3 415.7 L466.7 425.7 L499.3 435 M499.3 435 L503.3 445 L510 453.3 L508.3 465 L496.7 480 L485 495 L473.3 510 L461.7 521.7 L461 531.7 L469.3 540 L463.3 553.3 L457.3 570 L451.7 593.3 L445 620 L438.3 643.3 L430 666.7 M580.7 268.3 L575 290 L569.3 310 L565 326.7 L570.7 343.3 L572.7 363.3 L581.7 378.3 L590 396.7 L598.3 415 L613.3 425 L606.7 443.3 L600 460 L591.7 476.7 L590 483.3 L596.7 491.7 L613.3 484.3 L620.7 491.7 L622.7 513.3 L626.7 535 L636.7 548.3 L641.7 570 M633.3 181.7 L645 186.7 L649.3 203.3 L648.3 223.3 L645 236.7 L640 248.3 L645 263.3 L653.3 276.7 L656.7 286.7 M237.2 191.3 L245.8 199.2 L254.3 206.5 L262.8 213.2 L271.4 219.9 L282.3 223.6 L292.1 221.8 L298.8 201.7 L304.8 188.3 L303.6 181.6 M843.3 180 L833.3 236.7 L823.3 286.7 L816.7 321.7 M1164 180 L1162.7 270 L1160 366 M1408.3 180 L1409.3 270 L1409 351.7 M1053.3 359.3 L1048.3 403.3 L1043.3 453.3 L1038.3 503.3 L1035 538.3 L1031.7 570 L1028.3 598.3 L1025 630 L1020 668 M1036 539.3 L1100 546.7 L1166.7 552.7 L1233.3 556.7 L1300 558.3 L1350 559 M641.7 570 L666.7 566.7 L690 571.7 L705 567.3 L718.3 578.3 L726.7 555 L736.7 553.3 L800 565 L866.7 576.7 L933.3 586.7 L1028.3 598.3 M718.3 578.3 L713.3 610 L706.7 650 L703.3 668 M1326.7 374 L1329.3 396.7 L1328.3 426.7 L1333.3 443.3 L1338.3 460 L1340 486.7 L1341.7 516.7 L1348.3 536.7 L1351.7 550 L1350 559 L1348.3 568.3 L1338.3 576.7 L1340 586.7 L1346.7 593.3 L1355 596.7 L1355 636.7 L1354 668 M1663.3 403.3 L1683.3 403.3 L1733.3 426.7 L1783.3 450 L1833.3 470 L1846.7 486.7 L1865 495 M1538.3 506.7 L1556.7 490 L1573.3 471.7 L1593.3 453.3 L1613.3 440 L1633.3 430 L1648.3 423.3 L1653.3 403.3 L1663.3 393.3 L1676.7 383.3 L1680 370 L1690 361.7 L1700 363.3 L1713.3 368.3 L1730 369.3 L1746.7 366 L1760 368.3 L1768.3 378.3 L1776.7 396.7 L1786.7 408.3 L1803.3 411.7 L1830 409.3 L1828.3 420 L1826.7 431.7 L1843.3 443.3 L1841.7 460 L1836.7 470 L1856.7 471.7 L1853.3 486.7 L1865 495 L1833.3 495 L1830 481.7 L1813.3 485 L1793.3 490 L1776.7 500 L1763.3 506.7 L1743.3 506.7 L1730 498.3 L1720 486.7 L1706.7 485 L1693.3 491.7 L1690 476.7 L1700 463.3 L1713.3 453.3 L1706.7 451.7 L1693.3 458.3 L1676.7 470 L1660 485 L1640 495 L1626.7 506.7 L1613.3 511.7 L1596.7 510 L1593.3 495 L1580 500 L1560 506.7 L1543.3 511.7 L1538.3 506.7 M1538.3 506.7 L1533.3 510 L1530 520 L1530 550 L1516.7 556.7 L1506.7 575 L1515 586.7 L1511.7 603.3 L1513.3 626.7 L1526.7 640 L1543.3 650 L1556.7 668 M1585 513.3 L1613.3 518.3 L1623.3 528.3 L1650 533.3 L1676.7 541.7 L1700 543.3 L1715 553.3 L1723.3 566.7 L1728.3 580 L1735 595 M2226.7 566.7 L2200 583.3 L2133.3 613.3 L2100 630 M2340 490 L2345 510 L2351.7 530 L2355 546.7 L2360 566.7 L2366.7 568.3 L2371.7 586.7 L2378.3 606.7 L2380 616.7 L2381.7 643.3 L2383.3 663.3 M2415 463.3 L2416.7 476.7 L2421.7 488.3 L2415 500 L2406.7 510 L2408.3 530 L2405 556.7 L2408.3 583.3 L2410 603.3 M2428.3 443.3 L2436.7 463.3 L2446.7 490 L2456.7 516.7 L2466.7 546.7 L2476.7 556.7 M2380 616.7 L2410 605 L2465 593.3 L2476.7 578.3 L2481.7 575 M2383.3 660 L2416.7 651.7 L2453.3 640 L2475 635 L2480 643.3 M2455 640 L2461.7 656.7 L2465 668 M2546.7 223.3 L2536.7 233.3 L2523.3 241.7 L2511.7 238.3 L2498.3 241.7 L2486.7 250 L2486.7 263.3 L2491.7 276.7 L2483.3 285 L2480 291.7 M119.3 568.3 L200 600 L296.7 631 L430 668.3 L500 688.3 L560 703.3 L633.3 718.3 L690 730 M296.7 631 L283.3 676.7 L266.7 733.3 L253.3 776.7 L245 805 L266.7 840 L300 893.3 L333.3 946.7 L366.7 1000 L400 1053.3 L433.3 1108 M560 703.3 L550 743.3 L536.7 810 L523.3 876.7 L506.7 943.3 L490 1003.3 L480 1043.3 L473.3 1055 L466.7 1056.7 L461.7 1048.3 L453.3 1043.3 L443.3 1046.7 L441.7 1056.7 L443.3 1070 L438.3 1093.3 L433.3 1108 M490 1000 L566.7 1020 L633.3 1033.3 L730 1048.3 M703.3 668 L690 730 L682.7 791.7 L702.7 795.3 M771.7 813.3 L763.3 863.3 L755 910 L746.7 960 L738.3 1010 L730 1048.3 L721.7 1103.3 M1015 718.3 L1008.3 776.7 L1001.7 840 M1015 718.3 L1100 726.7 L1183.3 732.7 L1263.3 736.7 L1273.3 743.3 L1283.3 748.3 L1296.7 745 L1310 745 L1323.3 751.7 L1336.7 758.3 L1348.3 766.7 M703.3 795 L771.7 810 L866.7 823.3 L1001.7 840 L1095 849.3 L1090 910 L1200 916 L1316.7 921.7 L1398.3 921.7 M1090 910 L1083.3 993.3 L1075 1091.7 M705 1043.3 L730 1048.3 L833.3 1068.3 L933.3 1081.7 L1025 1089 L1075 1091.7 L1166.7 1098.3 L1266.7 1103.3 L1366.7 1105.7 L1438.3 1105.7 M1025 1089 L1023.3 1108 M1354 610 L1353.3 706.7 L1348.3 708.3 L1346.7 716.7 L1353.3 730 L1348.3 743.3 L1343.3 756.7 L1348.3 766.7 L1355 776.7 L1358.3 790 L1366.7 803.3 L1368.3 826.7 L1376.7 836.7 L1380 856.7 L1378.3 876.7 L1386.7 890 L1390 903.3 L1398.3 910 L1400 921.7 L1413.3 928.3 L1423.3 931.7 L1415 943.3 L1415 953.3 L1426.7 966.7 L1438.3 975 L1438.3 1043.3 L1438.3 1105.7 M1348.3 708.3 L1400 708.3 M1386.7 885 L1400 884.7 M1846 530 L1820 522 L1796 532 L1780 546 L1760 552 L1748 562 L1744 580 L1734 593 L1722 616 L1724 630 L1740 604 L1756 580 L1764 572 L1750 600 L1745 620 L1743 650 L1737 680 L1736 699 L1735 710 L1742 750 L1747 777 L1758 797 L1767 803 L1780 798 L1795 788 L1803 770 L1810 743 L1812 720 L1800 697 L1790 677 L1790 650 L1796 620 L1800 600 L1806 592 L1820 582 L1828 576 L1840 558 L1844 540 L1846 530 M1847 530 L1860 522 L1880 515 L1880 507 L1890 503 L1913 503 L1947 500 L1983 500 L2010 502 L2023 507 L2033 520 L2050 530 L2060 547 L2077 558 L2070 565 L2063 583 L2047 585 L2027 582 L2012 580 L2010 563 L2000 548 L1990 550 L1997 570 L2008 585 L2002 600 L1998 620 L2003 650 L1994 675 L1982 685 L1976 684 L1966 660 L1958 640 L1950 632 L1938 634 L1926 648 L1912 662 L1902 658 L1904 650 L1916 632 L1916 618 L1922 604 L1920 590 L1916 560 L1900 554 L1880 548 L1866 538 L1847 530 M1897 515 L1930 510 L1965 508 L1985 515 L1980 530 L1955 527 L1935 535 L1910 530 L1897 515 M1968 718 L1982 720 L1983 730 L1970 734 L1966 728 L1968 718 M1952 766 L1954 756 L1970 754 L1982 750 L1990 740 L2010 726 L2020 710 L2030 702 L2050 700 L2070 701 L2074 692 L2090 682 L2110 674 L2130 670 L2136 668 L2134 676 L2120 694 L2104 714 L2086 730 L2070 738 L2050 750 L2034 766 L2016 778 L1998 784 L1986 788 L1970 782 L1954 778 L1950 770 L1952 766 M2090 648 L2094 634 L2110 620 L2134 606 L2160 596 L2177 583 L2210 568 L2227 563 L2237 558 L2240 580 L2240 600 L2230 616 L2210 628 L2170 633 L2130 636 L2120 644 L2110 652 L2096 654 L2090 648 M2237 560 L2225 580 L2190 610 L2150 625 L2136 650 L2138 660 L2136 668 L2110 690 L2070 720 L2020 745 L1975 770 L1952 766 L1962 740 L1970 718 L1975 700 L1982 685 L1980 668 L1967 603 L1950 553 L1903 525 L1880 507 M1511.7 610 L1513.3 625 L1523.3 638.3 L1543.3 650 L1556.7 663.3 L1578.3 675 L1583.3 703.3 L1590 716.7 L1590 736.7 L1596.7 746.7 L1610 753.3 L1616.7 763.3 L1626.7 776.7 L1638.3 790 L1633.3 810 L1626.7 820 L1606.7 828.3 L1598.3 836.7 L1603.3 853.3 L1596.7 873.3 L1581.7 893.3 L1582.7 910 L1586.7 926.7 L1600 943.3 L1616.7 956.7 L1626.7 976.7 L1633.3 980 L1650 981.7 L1651.7 990 L1645 1010 L1643.3 1021.7 L1653.3 1033.3 L1673.3 1043.3 L1686.7 1055 M1400 708.3 L1500 706.7 L1581.7 703.3 M1616.7 762.7 L1683.3 758.3 L1743.3 753.3 M1400 885 L1500 881.7 L1566.7 879.3 L1581.7 893.3 M1753.3 791.7 L1760 806.7 L1765 860 L1770 910 L1773.3 940 L1768.3 956.7 L1776.7 973.3 L1771.7 993.3 L1758.3 1010 L1756.7 1026.7 L1758.3 1040 M1793.3 791.7 L1880 781.7 L1946.7 770 M1881.7 781.7 L1888.3 843.3 L1896.7 910 L1901.7 941.7 M1758.3 1040 L1770 1031.7 L1783.3 1028.3 L1800 1033.3 L1811.7 1023.3 L1825 1026.7 L1836.7 1008.3 L1850 1018.3 L1860 1000 L1873.3 983.3 L1880 968.3 L1893.3 968.3 L1905 958.3 L1901.7 941.7 L1920 940 L1933.3 953.3 L1950 958.3 L1960 961.7 L1976.7 960 L1996.7 953.3 L2016.7 968.3 L2030 960 L2035 930 L2046.7 926.7 L2050 906.7 L2066.7 896.7 L2081.7 883.3 L2083.3 850 L2086.7 836.7 L2081.7 823.3 M1758.3 1040 L1757.3 1050 M2071.7 736.7 L2081.7 823.3 L2096.7 873.3 L2146.7 863.3 L2221.3 846.7 M2103.3 723.3 L2110 728.3 L2221.3 705 M2016.7 968.3 L2015 986.7 L2033.3 1006.7 L2050 1016.7 L2061.7 1031.7 L2073.3 1033.3 L2090 1025 L2106.7 1016.7 L2130 1005 L2133.3 990 L2143.3 963.3 L2153.3 933.3 L2166.7 938.3 L2176.7 920 L2193.3 903.3 L2203.3 886.7 L2200 866.7 M2023.3 1046.7 L2026.7 1040 L2046.7 1025 L2061.7 1031.7 M2146.7 863.3 L2151.7 891.7 L2166.7 876.7 L2180 865 L2200 866.7 L2221.3 876.7 M2221.3 703.3 L2300 685 L2313.3 690 L2323.3 708.3 L2336.7 713.3 L2378.3 726.7 M2336.7 713.3 L2333.3 730 L2326.7 743.3 L2330 756.7 L2328.3 766.7 L2340 776.7 L2356.7 788.3 L2348.3 796.7 M2221.3 846 L2316.7 823.3 L2326.7 815 M2316.7 826.7 L2326.7 860 L2338.3 898.3 L2366.7 891.7 M2221.3 1046 L2233.3 1043.3 L2346.7 1016.7 M2200 866.7 L2203.3 886.7 L2230 876.7 L2221.7 856.7 L2233.3 866.7 L2250 876.7 L2276.7 886.7 M2393.3 706.7 L2386.7 683.3 L2381.7 660 L2381.7 616.7 M2383.3 659.3 L2455 640.7 L2475 635 L2480 646.7 L2486.7 666.7 M2456.7 641.7 L2466.7 675 M443.3 1050 L441.7 1076.7 L433.3 1110 L436.7 1136.7 L446.7 1156.7 L426.7 1176.7 L418.3 1198.3 L405 1210 L403.3 1226.7 L411.7 1240 L401.7 1250 L393.3 1250 M730 1053.3 L716.7 1150 L693.3 1283.3 L673.3 1395 M1025 1089 L1023.3 1118.3 L1018.3 1150 L1010 1250 L1000 1350 L993.3 1395 L900 1385 L803.3 1372.7 L808.3 1386.7 M1023.3 1118.3 L1100 1125 L1171.7 1130 L1168.3 1183.3 L1165 1246.7 L1180 1258.3 L1195 1260 L1200 1256.7 L1206.7 1271.7 L1223.3 1276.7 L1236.7 1278.3 L1243.3 1283.3 L1250 1279.3 L1261.7 1280 L1266.7 1290 L1273.3 1296.7 L1285 1289.3 L1293.3 1296.7 L1310 1301.7 L1320 1293.3 L1326.7 1298.3 L1335 1296.7 L1353.3 1308.3 L1366.7 1298.3 L1376.7 1298.3 L1390 1295 L1400 1298.3 L1410 1293.3 L1420 1300 L1433.3 1308.3 L1450 1315 L1470 1316.7 L1471.7 1350 L1472.7 1415 L1483.3 1426.7 L1495 1453.3 L1501.7 1473.3 L1493.3 1500 L1490 1526.7 L1486.7 1548 M1438.3 1106 L1440 1136.7 L1448.3 1200 L1449.3 1250 L1448.3 1310 M1440 1136 L1521.3 1133.3 M1472.7 1351 L1521.3 1349.3 M1439.3 1136.7 L1656.7 1127.3 L1665 1138.3 L1651.7 1158.3 L1683.3 1156.7 M1683.3 1050 L1690 1070 L1690 1081.7 L1701.7 1091.7 L1710 1100 L1706.7 1116.7 L1690 1125 L1685 1140 L1683.3 1156.7 L1676.7 1173.3 L1668.3 1196.7 L1666.7 1213.3 L1653.3 1230 L1646.7 1250 L1640 1260 L1630 1276.7 L1626.7 1283.3 L1618.3 1303.3 L1621.7 1320 L1623.3 1343.3 L1626.7 1370 L1635 1386.7 L1616.7 1416.7 L1606.7 1443.3 L1603.3 1471.7 L1701.7 1466.7 L1705 1476.7 L1701.7 1490 L1710 1503.3 L1716.7 1515 M1701.7 1091.7 L1710 1083.3 L1720 1080 L1740 1083.3 L1738.3 1070 L1753.3 1056.7 L1756.7 1050 M1690 1125 L1758.3 1120 L1765 1108.3 L1866.7 1100 L1981.7 1085 L2076.7 1071.7 L2221.3 1050 M1981.7 1085 L2000 1073.3 L2016.7 1056.7 L2023.3 1050 M2076.7 1071.7 L2066.7 1093.3 L2050 1110 L2033.3 1116.7 L2016.7 1133.3 L2000 1143.3 L1980 1153.3 L1963.3 1173.3 L1961.7 1186.7 M1663.3 1219.3 L1766.7 1211.7 L1895 1198.3 L1961.7 1186.7 L2023.3 1178.3 L2053.3 1161.7 L2123.3 1154 M1766.7 1211.7 L1771.7 1250 L1770.7 1316.7 L1768.3 1383.3 L1771.7 1433.3 L1778.3 1480 L1780 1496.7 M1895 1198.3 L1910 1250 L1926.7 1300 L1940 1333.3 L1951.7 1360 L1945 1383.3 L1951.7 1410 L1955 1436.7 L1966.7 1456.7 L2033.3 1451.7 L2113.3 1445 L2123.3 1455 L2120 1430 L2146.7 1426.7 M1831.7 1490 L1830 1476.7 L1821.7 1466.7 L1821.7 1456.7 L1900 1448.3 L1955 1440 M2023.3 1178.3 L2013.3 1196.7 L2040 1211.7 L2053.3 1231.7 L2083.3 1253.3 L2100 1270 L2120 1283.3 L2133.3 1306.7 L2150 1323.3 L2160 1340 M1471.7 1350 L1620 1345 M2123.3 1153.3 L2136.7 1160 L2141.7 1170 L2196.7 1161.7 L2260 1203.3 M1503.3 1473 L1495 1499.7 L1491.7 1526.3 L1480 1553 M1701.7 1483 L1710 1498 L1716.7 1509.7 M1778.3 1473 L1780 1496.3 M1831.7 1473 L1831.7 1493 M1020 668 L1017 695 L1015 718"/>
<path fill="none" stroke="#000" stroke-width="4.2" stroke-dasharray="4.2 1.4" d="M321.7 188.3 L366.7 203.3 L416.7 220 L466.7 235.7 L540 258.3 L583.3 269 L655 287.3 L733.3 305 L821.3 320.7 M1521.3 410 L1510 400 L1496.7 395.7 L1480 396.7 L1466.7 401.7 L1456.7 395 L1438.3 391.7 L1426.7 386.7 L1422.7 370 L1420 353.3 L1409.3 351.7 L1408.3 375 L1326.7 374 L1250 371 L1160 366 L1053.3 358.3 L976.7 346.7 L900 335.7 L816.7 321.7 L740 307.3 L700 297.7 M1648.3 423.3 L1633.3 428.3 L1621.7 426.7 L1613.3 420.7 L1591.7 421.7 L1586.7 417.3 L1576.7 418.3 L1566.7 425 L1556.7 426.7 L1543.3 415 L1531.7 410 L1525 416.7 L1521.3 410 M2006.7 183.3 L2013.3 203.3 L2023.3 270 L2036.7 336.7 L2048.3 400 L2058.3 420 L2076.7 440 L2093.3 458.3 L2120 461.7 L2150 463.3 L2166.7 473.3 L2180 471.7 L2196.7 486.7 L2221.3 485 M2596.7 400 L2583.3 396.7 L2573.3 386.7 L2566.7 370 L2551.7 366.7 L2546.7 350 L2536.7 326.7 L2530 310 L2523.3 293.3 L2500 283.3 L2483.3 296.7 L2470 298.3 L2466.7 290.7 L2458.3 290 L2453.3 310 L2445 343.3 L2448.3 363.3 L2446.7 386.7 L2448.3 400 L2441.7 416.7 L2440 428.3 L2428.3 443.3 L2415 445 L2413.3 463.3 L2376.7 475 L2333.3 488.3 L2281.7 500 L2273.3 505 L2258.3 520 L2246.7 540 L2236.7 556.7 L2226.7 566.7 M2100 461.7 L2140 461.7 L2153.3 465 L2166.7 475 L2178.3 476.7 L2183.3 470 L2196.7 486.7 L2210 490 L2226.7 488.3 L2250 475 L2266.7 465 L2281.7 463.3 L2286.7 466.7 L2287.3 481.7 M270 1228.3 L333.3 1240 L393.3 1250 L385 1260 L433.3 1290 L500 1331.7 L566.7 1375 L673.3 1395 L715 1401.7 L720 1376.7 L800 1385 L821.3 1393.3 L808.3 1386.7 L816.7 1393.3 L826.7 1411.7 L843.3 1426.7 L860 1446.7 L880 1463.3 L888.3 1476.7 L893.3 1493.3 L895 1513.3 L900 1526.7 L913.3 1543.3 L920 1548 L940 1563 L956.7 1576.3 L966.7 1581.3 L976.7 1578 L986.7 1566.3 L995 1546.3 L1006.7 1536.3 L1025 1533 L1036.7 1538 L1068.3 1541.3 L1076.7 1551.3 L1093.3 1568 L1108.3 1584.7 L1113.3 1603 L1123.3 1623 L1130 1639.7 L1143.3 1659.7 L1156.7 1676.3 L1168.3 1688 L1170 1706.3 L1171.7 1721.3 L1181.7 1736.3 L1185 1753 L1193.3 1763 L1206.7 1768 L1220 1774.7 L1233.3 1783 L1250 1787 L1266.7 1789.7 L1283.3 1798 L1291.7 1794.7 L1300 1789.7"/>
<path fill="none" stroke="#000" stroke-width="4.2" stroke-linejoin="round" stroke-linecap="round" d="M215 326.7 L218.3 330 L233.3 333.3 L240 338.3 L245 345 L251.7 346.7 M216.7 333.3 L230 336.7 L238.3 343.3 L246.7 346.7 M316.4 221.2 L320.1 227.2 L322.5 233.3 L316.4 238.2 L320.1 248 L322.5 252.8 L314 261.4 L307.9 267.4 L305.5 279.6 L306.7 286.9 L301.8 291.8 L294.5 291.8 L287.2 299.1 L281.1 294.2 L275 292.4 L281.1 285.7 L289.6 286.9 L296.9 283.3 L299.4 271.1 L306.7 258.9 L295.7 257.7 L283.5 267.4 L275 276 L277.4 279.6 L284.8 277.8 M306.7 238.2 L307.9 248 L311.5 255.3 L312.8 262.6 L309.1 267.4 L306.7 276 L303 285.7 M233.6 177.3 L233.6 180.4 L248.2 191.9 L262.8 204.1 L278.7 213.8 L284.8 212 L289.6 215.1 L290.8 206.5 L286 204.1 L285.4 194.4 L283.5 180.4 L283.5 177.3 L233.6 177.3 M287.2 181 L287.8 191.9 L287.2 202.9 M290.2 181 L290.8 188.3 L293.9 194.4 M296.9 202.9 L301.8 200.5 L306.7 202.9 L309.1 210.2 L306.7 218.7 L301.8 216.3 L296.9 210.2 L296.9 202.9 M307.9 202.9 L314 202.3 L316.4 207.8 L311.5 210.2 L307.9 202.9 M300 206.5 L304.2 209 L305.5 213.8 M1955 193.3 L1966.7 181.7 L1980 179.3 M1990 179.3 L2003.3 191.7 L2018.3 203.3 M2465 160 L2465 180 L2453.3 190 L2443.3 210 L2436.7 233.3 L2428.3 253.3 L2425 270 L2423.3 290 L2416.7 310 L2410 330 L2393.3 350 L2383.3 363.3 L2370 371.7 L2356.7 386.7 L2343.3 403.3 L2333.3 410 L2330 423.3 L2323.3 443.3 L2313.3 453.3 L2306.7 466.7 L2286.7 500 M2508.3 160 L2508.3 180 L2493.3 193.3 L2476.7 210 L2460 230 L2446.7 256.7 L2436.7 280 L2430 300 L2420 320 L2410 336.7 L2400 351.7 L2383.3 366.7 L2366.7 383.3 L2353.3 396.7 L2340 410 L2333.3 423.3 L2326.7 446.7 L2323.3 460 L2303.3 480 L2286.7 500 M2426.7 257.3 L2413.3 255.3 L2383.3 255 L2371.7 256 L2383.3 257.3 L2400 257.3 L2425 258.7 M2671.7 236.7 L2676.7 253.3 L2686.7 260 L2700 258.3 L2716.7 260 L2733.3 253.3 L2750 245 L2765 238.3 L2761.7 241.7 L2753.3 256.7 L2746.7 270 L2751.7 273.3 L2743.3 278.3 L2733.3 270 L2726.7 276.7 L2716.7 271.7 L2706.7 278.3 L2696.7 276.7 L2690 268.3 L2678.3 273.3 L2666.7 266.7 L2665 253.3 L2671.7 236.7 M2820.3 273.3 L2813.3 270 L2800 266.7 L2793.3 250 L2791.7 230 L2795 203.3 L2803.3 183.3 L2820.3 178.3 M2746.7 180 L2741.7 190 L2750 195 L2753.3 186.7 M2611.7 408.3 L2610 418.3 L2615 420 L2616 410 L2611.7 408.3 M110 838.3 L111.7 823.3 L115 819.3 L120 819.3 L125 825 L133.3 826.7 L140 830 L148.3 835 L156.7 837.7 L146.7 834 L136.7 830 L126.7 828.3 L116.7 830 L115 840 L118.3 853.3 L120 862.7 L113.3 856.7 L109.3 846.7 L110 838.3 M130 1089.3 L136.7 1093.3 L143.3 1096 L150 1100 L145 1102.7 L140 1098.3 L135 1093.3 L130 1089.3 M156.7 1096 L166.7 1100 L175 1103.3 L166.7 1102.7 L156.7 1096 M2383.3 748.3 L2390 741.7 L2400 733.3 L2420 720 L2440 708.3 L2456.7 700 L2470 696.7 L2453.3 706.7 L2446.7 711.7 L2451.7 710 L2443.3 720 L2426.7 728.3 L2410 738.3 L2393.3 746.7 L2383.3 751.7 L2383.3 748.3 M2511.7 665 L2521.7 660 L2516.7 666.7 L2511.7 665 M2540 660 L2548.3 655 L2550 660 L2538.3 662.7 L2540 660 M2345 976.7 L2341.7 963.3 L2345 943.3 L2348.3 926.7 L2338.3 930 L2336.7 916.7 L2330 910 L2320 911.7 L2313.3 903.3 L2316.7 893.3 L2306.7 886.7 L2303.3 873.3 L2308.3 860 L2303.3 850 L2310 836.7 L2300 843.3 L2296.7 856.7 L2290 863.3 L2295 876.7 L2300 893.3 L2296.7 903.3 L2306.7 920 L2315 930 L2320 943.3 L2318.3 956.7 L2326.7 970 L2330 983.3 L2326.7 993.3 L2333.3 996.7 L2348.3 995 M2300 923.3 L2286.7 920 L2273.3 923.3 L2265 916.7 L2263.3 906.7 L2270 893.3 L2275 886.7 M2276.7 931.7 L2290 940 L2303.3 950 L2318.3 956.7 M2303.3 968.3 L2313.3 975 L2326.7 980 M2281.7 983.3 L2300 986 L2313.3 991.7 L2326.7 993.3 M2353.3 1030 L2343.3 1040 L2330 1043.3 L2321.7 1043.3 L2326.7 1058.3 L2343.3 1053.3 L2360 1050 L2366.7 1056.7 L2363.3 1068.3 L2373.3 1066.7 L2366.7 1080 L2360 1086.7 L2346.7 1090 L2338.3 1085 L2333.3 1091.7 L2318.3 1090 L2333.3 1095 L2346.7 1096.7 L2345 1108 M130 1090 L137.3 1092.7 L143.3 1094.3 L151.7 1098.3 L146.7 1102.7 L140 1100 L135 1093.3 L130 1090 M156.7 1096.7 L166.7 1100 L175 1103.3 L166.7 1104 L158.3 1100 L156.7 1096.7 M211.7 1151.7 L220 1156.7 L224 1165 L216.7 1161.7 L211.7 1151.7 M203.3 1178.3 L207.3 1186.7 L212.7 1193.3 L206.7 1191.7 L203.3 1178.3 M159.3 1148.3 L164 1147.3 L165.3 1152.7 L160.7 1153.3 L159.3 1148.3 M145 1411.7 L150 1413.3 L151.7 1421.7 L148.3 1430 L145 1425 L145 1411.7 M293.3 1521.7 L301.7 1508.3 L304 1515 L300 1528.3 L293.3 1521.7 M408.3 1455 L415 1460 L418.3 1471.7 L426.7 1475 L425 1491.7 L416.7 1480 L408.3 1465 L408.3 1455 M456.7 1511.7 L463.3 1491.7 L475 1490.7 L473.3 1508.3 L466.7 1520 L456.7 1511.7 M465 1646.3 L470 1643 L473.3 1659.7 L470 1663.7 L465 1654.7 L465 1646.3 M490 1713 L495 1701.3 L500 1701.3 L496.7 1708 L490 1713 M509.3 1768 L515 1769.7 L518.3 1781.3 L513.3 1779.7 L509.3 1768 M546.7 1823 L550 1823.7 L552.7 1836.3 L548.3 1836.3 L546.7 1823 M346.7 1548 L353.3 1549.7 L356 1565.7 L348.3 1561.3 L344 1554.7 L346.7 1548 M415 1766.3 L428.3 1738 L425 1756.3 L420.7 1769.7 L423.3 1784.7 L431.7 1786.3 L443.3 1801.3 L441.7 1803 L430 1789.7 L423.3 1786.3 M2366.7 1113.3 L2353.3 1116.7 L2341.7 1121.7 L2333.3 1120 L2321.7 1111.7 L2333.3 1115 L2346.7 1110 L2348.3 1096.7 L2340 1086.7 L2318.3 1090 L2340 1092.7 L2363.3 1088.3 L2373.3 1075 L2380 1063.3 L2375 1055 M1300 1789.7 L1290 1773 L1283.3 1749.7 L1280 1729.7 L1285 1719.7 L1281.7 1711.3 L1270 1706.3 L1266.7 1699.7 L1280 1706.3 L1290 1703 M1291.7 1686.3 L1286.7 1674.7 L1300 1673 L1305 1664.7 L1301.7 1656.3 L1316.7 1653 L1323.3 1646.3 L1321.7 1639.7 L1330 1644.7 L1341.7 1639.7 L1335 1629.7 L1331.7 1619.7 L1340 1626.3 L1353.3 1624.7 L1366.7 1626.3 M1421.7 1576.3 L1420 1559.7 L1428.3 1561.3 L1430 1554.7 L1438.3 1554.7 L1435 1566.3 L1446.7 1568 M1763.3 1508 L1773.3 1510.3 M1786.7 1506.3 L1798.3 1504.7 M1805 1504.7 L1823.3 1501.3 M1758.3 1521.3 L1761.7 1533 L1758.3 1543 L1754 1547 M1580 1554.7 L1591.7 1548 L1600 1551.3 L1603.3 1561.3 L1598.3 1568 L1588.3 1563 L1580 1554.7 M1421.7 1558 L1425 1573 L1431.7 1579.7 L1436.7 1573 L1446.7 1569.7 L1438.3 1563 L1438.3 1554.7 L1430 1554.7 L1421.7 1558 M1965 1526.3 L1976.7 1521.3 L1985 1515.7 M2206.7 1543 L2215 1553 L2223.3 1566.3 L2228.3 1559.7 L2216.7 1548 M2280 1751.3 L2273.3 1766.3 L2263.3 1783 M2251.7 1788 L2256.7 1789.7 M2238.3 1799.7 L2246.7 1795.7 M2220 1801.3 L2225 1806.3 M2210 1808 L2213.3 1811.3 M2199.3 1817.3 L2204 1814.7 M2335 1652.3 L2348.3 1661.3 L2366.7 1653 L2383.3 1644.7 L2395 1638 L2393.3 1636.3 L2376.7 1641.3 L2363.3 1646.3 L2356 1641.3 L2354 1651.3 L2346.7 1655.7 L2335 1652.3 M2390 1624.7 L2400 1621.3 L2413.3 1621.3 L2423.3 1628 L2433.3 1633 L2443.3 1636.3 L2449.3 1649.7 L2445 1661.3 L2446.7 1676.3 L2443.3 1680.3 L2433.3 1673.7 L2440 1666.3 L2438.3 1654.7 L2436.7 1641.3 L2428.3 1634.7 L2416.7 1626.3 L2403.3 1625.7 L2390 1624.7 M2398.3 1736.3 L2411.7 1738 L2416.7 1749.7 L2431.7 1761.3 L2436.7 1774.7 L2428.3 1783 L2421.7 1789.7 L2413.3 1784.7 L2401.7 1781.3 L2393.3 1774.7 L2401.7 1769.7 L2403.3 1756.3 L2401.7 1744.7 L2398.3 1736.3 M2425 1793 L2441.7 1786.3 L2453.3 1796.3 L2458.3 1813 L2456.7 1819.7 L2445 1822.3 L2440 1811.3 L2431.7 1801.3 L2425 1793 M2438.3 1737 L2446.7 1732.3 L2455 1733.7 L2446.7 1739 L2438.3 1737 M2476.7 1703 L2480 1693.7 L2490 1699.7 L2505 1703 L2520 1713 L2522.7 1729.7 L2524 1743 L2513.3 1736.3 L2518.3 1729.7 L2516.7 1716.3 L2503.3 1706.3 L2490 1703 L2476.7 1703 M2548.3 1734.7 L2553.3 1733 L2566.7 1749.7 L2581.7 1760.3 L2570 1765.7 L2571.7 1760.3 L2560 1749.7 L2548.3 1734.7 M2626.7 1751.3 L2632.7 1750.3 L2631.7 1761.3 L2627.3 1762.3 L2626.7 1751.3 M2546.7 1803 L2551.7 1802.3 L2565 1809.7 L2571.7 1811.3 L2566.7 1813 L2548.3 1808 L2546.7 1803 M2588.3 1793 L2596.7 1801.3 L2606.7 1816.3 L2620 1823 L2629.3 1834.7 L2620 1827 L2603.3 1823 L2608.3 1819.7 L2596.7 1806.3 L2588.3 1793 M2660 1829.7 L2666.7 1829 L2680 1833 L2688.3 1829.7 L2693.3 1841.3 L2683.3 1856.3 L2673.3 1869.7 L2681.7 1853 L2688.3 1841.3 L2681.7 1837 L2666.7 1836.3 L2660 1829.7 M2735 1834.7 L2750 1833 L2761.7 1836.3 L2750 1837 L2736 1839 L2735 1834.7 M2793.3 1859.7 L2803.3 1861.3 L2806 1859.7 L2798.3 1864.7 L2793.3 1859.7 M2810 1846.3 L2821.7 1850.3 L2821.7 1853 L2811.7 1849.7 L2810 1846.3 M2728.3 1928 L2740 1919.7 L2756.7 1916.3 L2761.7 1904.7 L2766 1913 L2761.7 1928 L2746.7 1934.7 L2731.7 1939.7 L2728.3 1928 M2756.7 1891.3 L2761.7 1887 L2766.7 1889.7 L2760.7 1895.7 L2756.7 1891.3 M2110 1949.7 L2116.7 1941.3 L2133.3 1933 L2160 1921.3 L2180 1911.3 L2200 1906.3 L2226.7 1906.3 L2246.7 1901.3 L2253.3 1906.3 L2266.7 1901.3 L2283.3 1898 L2296.7 1903 L2316.7 1901.3 L2333.3 1903 L2346.7 1909.7 L2360 1919.7 L2376.7 1925.7 L2393.3 1923 L2410 1921.3 L2426.7 1925.7 L2446.7 1933 L2463.3 1939.7 L2470 1949.7 L2110 1949.7 M2406.7 1909.7 L2426.7 1906.3 L2436.7 1913 L2453.3 1921.3 L2466.7 1928 L2478.3 1928 L2475 1936.3 L2463.3 1931.3 L2450 1924.7 L2433.3 1916.3 L2420 1912.3 L2408.3 1913.7 L2406.7 1909.7 M2348.3 1904.7 L2366.7 1911.3 M2190 1941.3 L2213.3 1938 L2226.7 1940.3 M2480 1938 L2493.3 1940.3 M318.9 165.1 L318.9 182.2 M318.9 182.2 L322.5 189.5 L321.3 200.5 L326.2 205.3 L323.7 218.7 L316.4 221.2 L314 228.5 L306.7 238.2 L301.8 240.6 L295.7 239.4 L292.1 233.3 L284.8 232.7 L275 227.2 L262.8 221.2 L253.1 212.6 L243.3 202.3 L235.4 197.4 M235 198.3 L232.3 210 L229.3 223.3 L233.3 236.7 L232.7 256.7 L230 276.7 L227.3 286.7 L239.3 290.7 L226 295 L230.7 305 L224 316.7 L220 311.7 L215 326.7 L218.3 335 L213.3 351.7 L208.3 366.7 L200 381.7 L191.7 400 L182.7 418.3 L174 436.7 L166.7 453.3 L160 470 L155 475 L144 488.3 L150 486.7 L143.3 490 L133.3 503.3 L122.3 516.7 L123.3 530 L118.3 543.3 L116 556.7 L119.3 567.3 L115 576.7 L112.7 583.3 L115 591.7 L111.7 606.7 L105 618.3 L97.3 631.7 L88.3 640 L81 650 L77.3 668 L81.7 680 L87.3 693.3 L88.3 706.7 L85 716.7 L80 725 L79.3 740 L75 753.3 L80 765 L85 778.3 L91.7 790 L93.3 801.7 L96.7 810 L88.3 816.7 L95 821.7 L103.3 831.7 L110 838.3 L105 850 L101.7 863.3 L100 873.3 L103.3 883.3 L108.3 891.7 L118.3 896.7 L120 903.3 L116.7 910 L110 915 L106.7 923.3 L106 931.7 L110 941.7 L115 955 L118.3 968.3 L121.7 978.3 L128.3 988.3 L131.7 996.7 L136 1001.7 L132.7 1013.3 L140 1020 L141.7 1026.7 L138.3 1035 L135 1046.7 L131.7 1055 L136.7 1063.3 L146.7 1066 L156.7 1069.3 L166.7 1075 L176.7 1078.3 L185 1083.3 L191.7 1091.7 L193.3 1100 L200 1108 L206.7 1111.7 L216.7 1115 L226.7 1120 L228.3 1130 L225 1138.3 L233.3 1140 L241.7 1146.7 L248.3 1156.7 L256.7 1166.7 L263.3 1178.3 L268.3 1191.7 L269.3 1205 L266.7 1216.7 L270.7 1221.7 L270 1228.3 M270 1228.3 L269.3 1241.7 L273.3 1250 L275 1263.3 L283.3 1276.7 L276.7 1283.3 L278.3 1295 L283.3 1306.7 L288.3 1320 L286.7 1333.3 L295 1346.7 L293.3 1370 L300 1378.3 L298.3 1400 L300 1416.7 L313.3 1431.7 L321.7 1443.3 L331.7 1450 L340 1466.7 L350 1485 L360 1503.3 L366.7 1513.3 L366.7 1520 L360 1533.3 L350 1548 L346.7 1548 L336.7 1552.3 L328.3 1551.3 L316.7 1547 L305 1542.3 L304 1548 L311.7 1556.3 L320 1568 L328.3 1576.3 L326.7 1588 L333.3 1593.7 L343.3 1599 L350 1609 L358.3 1612.3 L363.3 1624.7 L368.3 1630.3 L378.3 1628 L386.7 1630.3 L395 1622.3 L394.3 1636.3 L398.3 1646.3 L413.3 1666.3 L430 1677 L435 1691.3 L438.3 1706.3 L436.7 1719.7 L438.3 1728 L433.3 1743 L428.3 1756.3 L426.7 1766.3 L440 1783 L448.3 1789.7 L453.3 1798 L466.7 1813 L480 1826.3 L488.3 1839.7 L498.3 1854.7 L513.3 1866.3 L518.3 1883 L521.7 1903 L525 1914.7 L533.3 1916.3 L546.7 1909.7 M546.7 1909.7 L558.3 1903 L565 1889.7 L565 1881.3 L560 1873 L553.3 1869.7 L552.7 1859.7 L546.7 1846.3 L538.3 1833 L526.7 1819.7 L521.7 1826.3 L516.7 1833 L513.3 1828 L506.7 1824.7 L501.7 1813 L501.7 1798 L506.7 1786.3 L508.3 1776.3 L500 1761.3 L496.7 1749.7 L496.7 1736.3 L490 1731.3 L485 1718 L485 1703 L487.3 1693 L484 1673 L480.7 1656.3 L470 1643 L465 1646.3 L460 1634.7 L461.7 1628 L451.7 1618 L448.3 1598 L436.7 1584.7 L430 1573 L433.3 1553 L433.3 1548 L430 1533.3 L421.7 1526.7 L416.7 1506.7 L405 1493.3 L400 1476.7 L393.3 1460 L380 1440 L370 1426.7 L363.3 1413.3 L361.7 1400 L366.7 1383.3 L366.7 1356.7 L363.3 1343.3 L370 1323.3 L376.7 1308.3 L371.7 1296.7 M371.7 1296.7 L386.7 1308.3 L405 1328.3 L413.3 1330 L420 1325 L431.7 1335 L433.3 1345 L443.3 1351.7 L460 1361.7 L458.3 1370 L451.7 1383.3 L453.3 1396.7 L460 1416.7 L461.7 1440 L466.7 1460 L471.7 1473.3 L471.7 1483.3 L478.3 1490 L480 1510 L488.3 1523.3 L493.3 1536.7 L500 1548 L508.3 1553 L515 1569.7 L523.3 1581.3 L533.3 1588 L543.3 1588 L553.3 1594.7 L546.7 1606.3 L546.7 1619.7 L551.7 1631.3 L560 1641.3 L576.7 1649.7 L578.3 1664.7 L581.7 1673 L598.3 1677 L608.3 1691.3 L610 1703 L615 1709.7 L606.7 1708 L593.3 1721.3 L592.7 1739.7 L598.3 1749.7 L610 1750.3 L621.7 1745.7 L610 1756.3 L610 1760.3 L625 1758 L626.7 1766.3 L640 1778 L648.3 1786.3 L663.3 1794.7 L663.3 1798 L650 1792.3 L663.3 1813 L661.7 1821.3 L668.3 1828 L681.7 1836.3 L690 1836.3 L688.3 1844.7 L675 1836.3 L693.3 1854.7 L710 1871.3 L718.3 1883 L726.7 1899.7 L733.3 1909.7 L741.7 1928 L751.7 1939.7 L753.3 1946.3 M1261.7 1941.3 L1263.3 1919.7 L1266.7 1893 L1273.3 1863 L1281.7 1839.7 L1291.7 1819.7 L1298.3 1803 L1300 1789.7 M1300 1789.7 L1298.3 1773 L1293.3 1753 L1290 1733 L1288.3 1713 L1291.7 1703 L1300 1689.7 L1310 1674.7 L1323.3 1659.7 L1340 1648 L1356.7 1636.3 L1373.3 1626.3 L1393.3 1614.7 L1413.3 1599.7 L1433.3 1583 L1450 1573 L1470 1561.3 L1490 1554.7 L1521.3 1551.3 L1533.3 1554.7 L1543.3 1560.3 L1556.7 1563 L1573.3 1563.7 L1583.3 1560.3 L1581.7 1553 L1593.3 1545.7 L1606.7 1551.3 L1613.3 1559.7 L1626.7 1563 L1630 1573 L1636.7 1574.7 L1630 1579 L1643.3 1583 L1660 1586.3 L1666.7 1579 L1675 1574.7 L1683.3 1576.3 L1688.3 1586.3 L1695 1583 L1696 1569.7 L1690 1559 L1700 1562.3 L1710 1569.7 L1723.3 1573 L1736.7 1574.7 L1748.3 1571.3 L1755 1578 L1746.7 1588 L1743.3 1584.7 L1735 1590.3 L1733.3 1580.3 L1720 1568 L1713.3 1554.7 L1720 1544.7 L1731.7 1538 L1733.3 1531.3 L1725 1524.7 L1716.7 1533 L1706.7 1528 L1711.7 1521.3 L1701.7 1519.7 L1686.7 1528 L1673.3 1521.3 L1681.7 1506.3 L1693.3 1508 L1703.3 1513 L1716.7 1514.7 L1730 1506.3 L1743.3 1503 L1755 1498 L1766.7 1501.3 L1780 1499.7 L1795 1497 L1797.3 1483 L1801.7 1478 L1806.7 1484.7 L1808.3 1494.7 L1816.7 1501.3 L1825 1501.3 L1831.7 1496.3 L1845 1492.3 L1848.3 1484.7 L1856.7 1482.3 L1859.3 1489 L1866.7 1490.3 L1880 1485.7 L1890 1480.3 L1903.3 1481.3 L1893.3 1485.7 L1906.7 1491.3 L1920 1495.7 L1930 1493 L1933.3 1499.7 L1940 1506.3 L1946.7 1516.3 L1950 1524.7 L1960 1522.3 L1973.3 1518 L1986.7 1513 L2000 1504.7 L2005 1495.7 L2018.3 1489 L2030 1493.7 L2040 1500.3 L2050 1511.3 L2063.3 1523 L2083.3 1534.7 L2096.7 1543 L2105 1551.3 L2108.3 1566.3 L2110 1586.3 L2106.7 1606.3 L2106 1619.7 L2113.3 1626.3 L2121.7 1624.7 L2120 1613 L2130 1614.7 L2125 1628 L2118.3 1639.7 L2130 1653 L2140 1668 L2150 1676.3 L2155 1669.7 L2160 1673 L2158.3 1689.7 L2156.7 1699.7 L2166.7 1696.3 L2173.3 1684.7 L2170 1696.3 L2180 1706.3 L2185 1719.7 L2193.3 1728 L2206.7 1731.3 L2213.3 1739.7 L2221.3 1746.3 L2226.7 1756.3 L2231.7 1766.3 L2233.3 1773 L2243.3 1768 L2253.3 1766.3 L2263.3 1761.3 L2271.7 1754.7 L2275 1739.7 L2276.7 1726.3 L2281.7 1716.3 L2280 1693 L2278.3 1673 L2275 1656.3 L2268.3 1643 L2260 1629.7 L2250 1613 L2240 1596.3 L2231.7 1579.7 L2226.7 1563 L2216.7 1549.7 L2216.7 1548 L2200 1526.7 L2183.3 1500 L2170 1476.7 L2160 1453.3 L2150 1430 L2146.7 1413.3 L2148.3 1396.7 L2153.3 1380 L2156.7 1363.3 L2163.3 1350 L2166.7 1340 L2171.7 1330 L2175 1316.7 L2183.3 1308.3 L2196.7 1301.7 L2210 1290 L2221.7 1276.7 L2233.3 1263.3 L2240 1250 L2241.7 1236.7 L2250 1220 L2260 1208.3 L2273.3 1201.7 L2293.3 1196.7 L2296.7 1183.3 L2306.7 1166.7 L2316.7 1153.3 L2313.3 1143.3 L2326.7 1138.3 L2343.3 1133.3 L2356.7 1131.7 L2363.3 1121.7 L2366.7 1113.3 L2373.3 1101.7 L2386.7 1093.3 L2396.7 1088.3 L2396 1073.3 L2391.7 1058.3 L2383.3 1046.7 L2373.3 1033.3 L2363.3 1020 L2355 1008.3 L2348.3 995 L2345 976.7 L2348.3 963.3 L2356.7 950 L2358.3 930 L2363.3 920 L2366.7 910 L2370 893.3 L2366.7 883.3 L2363.3 873.3 L2353.3 866.7 L2343.3 853.3 L2333.3 840 L2328.3 826.7 L2330 813.3 L2340 805 L2348.3 795 L2340 806.7 L2331.7 816.7 L2330 825 L2333.3 833.3 L2343.3 841.7 L2353.3 845 L2365 846.7 L2366.7 861.7 L2373.3 856.7 L2380 836.7 L2383.3 823.3 L2390 810 L2392.7 790 L2390 766.7 L2376.7 756.7 L2373.3 750 L2378.3 730 L2383.3 723.3 L2393.3 710 L2420 697.3 L2446.7 688.3 L2466.7 678.3 L2478.3 671.7 L2483.3 663.3 L2480 650 L2486.7 646.7 L2488.3 660 L2496.7 653.3 L2505 648.3 L2511.7 641.7 L2518.3 650 L2510 660 L2516.7 663.3 L2530 651.7 L2540 643.3 L2545 633.3 L2540 621.7 L2531.7 615 L2523.3 615 L2531.7 620 L2536.7 630 L2530 636.7 L2516.7 633.3 L2506.7 621.7 L2493.3 615 L2483.3 611.7 L2488.3 600 L2496.7 586.7 L2488.3 585 L2481.7 576.7 L2485 560 L2488.3 543.3 L2495 528.3 L2493.3 520 L2500 510 L2510 503.3 L2520 495 L2531.7 485 L2533.3 470 L2536.7 453.3 L2548.3 463.3 L2553.3 450 L2563.3 453.3 L2573.3 440 L2583.3 433.3 L2596.7 420 L2600 410 L2596.7 400 M2596.7 400 L2603.3 393.3 L2616.7 386.7 L2630 373.3 L2626.7 363.3 L2640 370 L2653.3 356.7 L2666.7 336.7 L2676.7 323.3 L2681.7 313.3 L2673.3 310 L2680 316.7 L2678.3 330 L2675 343.3 L2681.7 346.7 L2693.3 340 L2710 330 L2726.7 325 L2736.7 321.7 L2723.3 330 L2710 340 L2715 353.3 L2703.3 346.7 L2696.7 341.7 L2686.7 350 L2673.3 366.7 L2663.3 383.3 L2655 400 L2650 413.3 L2646.7 426.7 L2653.3 443.3 L2663.3 453.3 L2673.3 458.3 L2683.3 463.3 L2696.7 460 L2700 446.7 L2710 433.3 L2716.7 413.3 L2723.3 396.7 L2720 383.3 L2733.3 373.3 L2746.7 370 L2753.3 360 L2766.7 350 L2783.3 333.3 L2800 316.7 L2820.3 300 L2853.3 300 L2853.3 273.3 L2820.3 273.3 L2813.3 275 L2803.3 278.3 L2790 276.7 L2780 271.7 L2766.7 286.7 L2753.3 295 L2733.3 298.3 L2710 295 L2695 300 L2700 291.7 L2696.7 286.7 L2673.3 291.7 L2666.7 286.7 L2656.7 276.7 L2646.7 266.7 L2636.7 253.3 L2620 256.7 L2626.7 246.7 L2630 233.3 L2628.3 213.3 L2633.3 196.7 L2630 193.3 L2630 206.7 L2620 210 L2606.7 213.3 L2596.7 226.7 L2590 220 L2573.3 218.3 L2556.7 215 L2546.7 223.3 L2565 210 L2571.7 203.3 L2583.3 203.3 L2603.3 201.7 L2613.3 190 L2618.3 180 L2618.3 150"/>
</g>
<rect x="30.6" y="178.0" width="2789.85" height="1763.40" fill="none" stroke="#000" stroke-width="3.3"/>
<text x="809.6" y="80.4" font-size="67.5" textLength="225.2" lengthAdjust="spacingAndGlyphs">Sliding</text>
<text x="1056.2" y="80.4" font-size="67.5" textLength="181.3" lengthAdjust="spacingAndGlyphs">Mean</text>
<text x="1260.0" y="80.4" font-size="67.5" textLength="94.4" lengthAdjust="spacingAndGlyphs">Hit</text>
<text x="1374.0" y="80.4" font-size="67.5" textLength="153.9" lengthAdjust="spacingAndGlyphs">Rate</text>
<text x="1549.3" y="80.4" font-size="67.5" textLength="272.6" lengthAdjust="spacingAndGlyphs">(Below):</text>
<text x="1841.5" y="80.4" font-size="67.5" textLength="198.9" lengthAdjust="spacingAndGlyphs">CWRF</text>
<text x="738.4" y="153.8" font-size="67.5" textLength="290.9" lengthAdjust="spacingAndGlyphs">Variable:</text>
<text x="1047.0" y="153.8" font-size="67.5" textLength="255.6" lengthAdjust="spacingAndGlyphs">T2MAX,</text>
<text x="1324.0" y="153.8" font-size="67.5" textLength="264.8" lengthAdjust="spacingAndGlyphs">Season:</text>
<text x="1604.0" y="153.8" font-size="67.5" textLength="109.5" lengthAdjust="spacingAndGlyphs">JJA,</text>
<text x="1736.0" y="153.8" font-size="67.5" textLength="186.4" lengthAdjust="spacingAndGlyphs">Start:</text>
<text x="1945.0" y="153.8" font-size="67.5" textLength="165.5" lengthAdjust="spacingAndGlyphs">0101</text>
<polygon points="2994.6,388.9 3031.475,321.29999999999995 3068.35,388.9" fill="#67001f"/>
<polygon points="2994.6,1730.5 3031.475,1798.1 3068.35,1730.5" fill="#053061"/>
<rect x="2994.6" y="1596.74" width="73.75" height="134.56" fill="#053061"/>
<rect x="2994.6" y="1462.48" width="73.75" height="134.56" fill="#256baf"/>
<rect x="2994.6" y="1328.22" width="73.75" height="134.56" fill="#559ec9"/>
<rect x="2994.6" y="1193.96" width="73.75" height="134.56" fill="#a7d0e4"/>
<rect x="2994.6" y="1059.70" width="73.75" height="134.56" fill="#e2edf3"/>
<rect x="2994.6" y="925.44" width="73.75" height="134.56" fill="#fae7dc"/>
<rect x="2994.6" y="791.18" width="73.75" height="134.56" fill="#f7b799"/>
<rect x="2994.6" y="656.92" width="73.75" height="134.56" fill="#dd6f59"/>
<rect x="2994.6" y="522.66" width="73.75" height="134.56" fill="#b6202f"/>
<rect x="2994.6" y="388.40" width="73.75" height="134.56" fill="#67001f"/>
<polygon points="2994.6,388.4 3031.475,321.29999999999995 3068.35,388.4 3068.35,1731.0 3031.475,1798.1 2994.6,1731.0" fill="none" stroke="#000" stroke-width="3.3" stroke-linejoin="miter"/>
<line x1="3068.35" y1="1731.00" x2="3084.55" y2="1731.00" stroke="#000" stroke-width="3.3"/>
<text x="3098.3" y="1746.00" font-size="44.5" textLength="65.2" lengthAdjust="spacingAndGlyphs">0.0</text>
<line x1="3068.35" y1="1596.74" x2="3084.55" y2="1596.74" stroke="#000" stroke-width="3.3"/>
<text x="3098.3" y="1611.74" font-size="44.5" textLength="65.2" lengthAdjust="spacingAndGlyphs">0.1</text>
<line x1="3068.35" y1="1462.48" x2="3084.55" y2="1462.48" stroke="#000" stroke-width="3.3"/>
<text x="3098.3" y="1477.48" font-size="44.5" textLength="65.2" lengthAdjust="spacingAndGlyphs">0.2</text>
<line x1="3068.35" y1="1328.22" x2="3084.55" y2="1328.22" stroke="#000" stroke-width="3.3"/>
<text x="3098.3" y="1343.22" font-size="44.5" textLength="65.2" lengthAdjust="spacingAndGlyphs">0.3</text>
<line x1="3068.35" y1="1193.96" x2="3084.55" y2="1193.96" stroke="#000" stroke-width="3.3"/>
<text x="3098.3" y="1208.96" font-size="44.5" textLength="65.2" lengthAdjust="spacingAndGlyphs">0.4</text>
<line x1="3068.35" y1="1059.70" x2="3084.55" y2="1059.70" stroke="#000" stroke-width="3.3"/>
<text x="3098.3" y="1074.70" font-size="44.5" textLength="65.2" lengthAdjust="spacingAndGlyphs">0.5</text>
<line x1="3068.35" y1="925.44" x2="3084.55" y2="925.44" stroke="#000" stroke-width="3.3"/>
<text x="3098.3" y="940.44" font-size="44.5" textLength="65.2" lengthAdjust="spacingAndGlyphs">0.6</text>
<line x1="3068.35" y1="791.18" x2="3084.55" y2="791.18" stroke="#000" stroke-width="3.3"/>
<text x="3098.3" y="806.18" font-size="44.5" textLength="65.2" lengthAdjust="spacingAndGlyphs">0.7</text>
<line x1="3068.35" y1="656.92" x2="3084.55" y2="656.92" stroke="#000" stroke-width="3.3"/>
<text x="3098.3" y="671.92" font-size="44.5" textLength="65.2" lengthAdjust="spacingAndGlyphs">0.8</text>
<line x1="3068.35" y1="522.66" x2="3084.55" y2="522.66" stroke="#000" stroke-width="3.3"/>
<text x="3098.3" y="537.66" font-size="44.5" textLength="65.2" lengthAdjust="spacingAndGlyphs">0.9</text>
<line x1="3068.35" y1="388.40" x2="3084.55" y2="388.40" stroke="#000" stroke-width="3.3"/>
<text x="3098.3" y="403.40" font-size="44.5" textLength="65.2" lengthAdjust="spacingAndGlyphs">1.0</text>
<text transform="translate(3211.3,1062.2) rotate(-90)" text-anchor="middle" font-size="42.5" textLength="169" lengthAdjust="spacingAndGlyphs">Hit Rate</text>
</svg></body></html>
